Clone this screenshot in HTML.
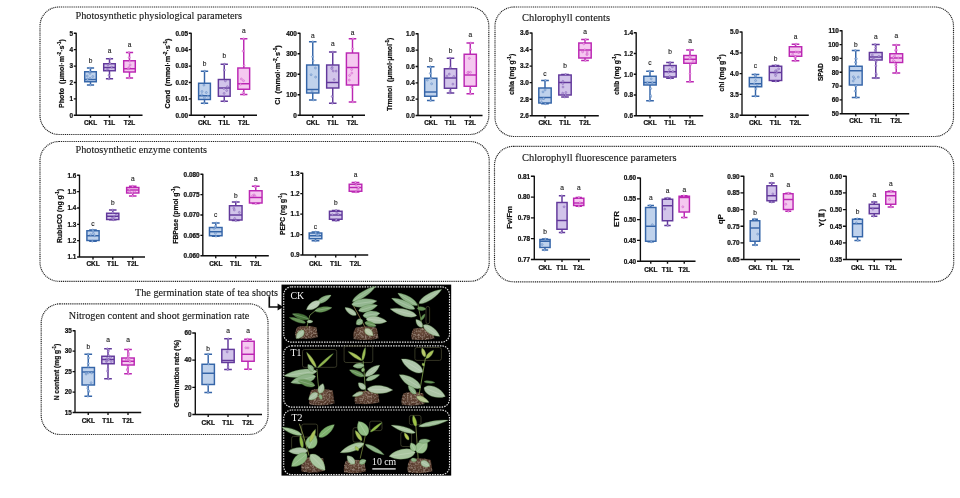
<!DOCTYPE html>
<html><head><meta charset="utf-8"><title>figure</title>
<style>html,body{margin:0;padding:0;background:#fff;}body{width:960px;height:498px;overflow:hidden;font-family:"Liberation Sans",sans-serif;}svg{display:block}</style>
</head><body>
<svg width="960" height="498" viewBox="0 0 960 498">
<rect width="960" height="498" fill="#ffffff"/>
<defs><filter id="soft" x="0" y="0" width="100%" height="100%" filterUnits="userSpaceOnUse"><feGaussianBlur stdDeviation="0.38"/></filter></defs>
<g filter="url(#soft)">
<rect x="40" y="7" width="448.8" height="127.5" rx="19" ry="19" fill="none" stroke="#222" stroke-width="1.15" stroke-dasharray="1.1 0.8"/>
<rect x="495" y="7" width="458.5" height="129.5" rx="19" ry="19" fill="none" stroke="#222" stroke-width="1.15" stroke-dasharray="1.1 0.8"/>
<rect x="40" y="141.5" width="449.2" height="139.8" rx="19" ry="19" fill="none" stroke="#222" stroke-width="1.15" stroke-dasharray="1.1 0.8"/>
<rect x="494.5" y="146.3" width="459.20000000000005" height="135.5" rx="19" ry="19" fill="none" stroke="#222" stroke-width="1.15" stroke-dasharray="1.1 0.8"/>
<rect x="41.2" y="303.8" width="226.8" height="130.7" rx="19" ry="19" fill="none" stroke="#222" stroke-width="1.15" stroke-dasharray="1.1 0.8"/>
<text x="75.5" y="19.2" font-family="Liberation Serif, serif" font-size="10.5" fill="#151515" stroke="#151515" stroke-width="0.12" textLength="166.5" lengthAdjust="spacingAndGlyphs">Photosynthetic physiological parameters</text>
<text x="522" y="21.3" font-family="Liberation Serif, serif" font-size="10.5" fill="#151515" stroke="#151515" stroke-width="0.12" textLength="88" lengthAdjust="spacingAndGlyphs">Chlorophyll contents</text>
<text x="75.5" y="152.6" font-family="Liberation Serif, serif" font-size="10.5" fill="#151515" stroke="#151515" stroke-width="0.12" textLength="131.5" lengthAdjust="spacingAndGlyphs">Photosynthetic enzyme contents</text>
<text x="522" y="160.6" font-family="Liberation Serif, serif" font-size="10.5" fill="#151515" stroke="#151515" stroke-width="0.12" textLength="154.5" lengthAdjust="spacingAndGlyphs">Chlorophyll fluorescence parameters</text>
<text x="135" y="295.6" font-family="Liberation Serif, serif" font-size="10.5" fill="#151515" stroke="#151515" stroke-width="0.12" textLength="143" lengthAdjust="spacingAndGlyphs">The germination state of tea shoots</text>
<text x="68.8" y="318.8" font-family="Liberation Serif, serif" font-size="10.5" fill="#151515" stroke="#151515" stroke-width="0.12" textLength="180.5" lengthAdjust="spacingAndGlyphs">Nitrogen content and shoot germination rate</text>
<g stroke="#3565A8" stroke-width="1.45" fill="none">
<path d="M90.5 68V71.75M90.5 81.75V85M86.904 68H94.096M86.904 85H94.096"/>
<rect x="84.7" y="71.75" width="11.6" height="10.0" fill="#BFD2EC"/>
<path d="M84.7 79.5H96.3"/>
</g>
<g fill="#A9C4EA" stroke="#3565A8" stroke-width="0.5" stroke-opacity="0.75" opacity="0.9"><circle cx="89.9" cy="68.0" r="1.0"/><circle cx="90.5" cy="85.0" r="1.0"/><circle cx="87.3" cy="76.0" r="1.0"/><circle cx="90.0" cy="73.4" r="1.0"/><circle cx="87.5" cy="79.3" r="1.0"/><circle cx="89.9" cy="71.8" r="1.0"/><circle cx="90.0" cy="78.2" r="1.0"/><circle cx="92.8" cy="76.5" r="1.0"/></g>
<g stroke="#62399B" stroke-width="1.45" fill="none">
<path d="M109.5 58.75V63.75M109.5 70.75V78.75M105.904 58.75H113.096M105.904 78.75H113.096"/>
<rect x="103.7" y="63.75" width="11.6" height="7.0" fill="#D2C4EA"/>
<path d="M103.7 67.5H115.3"/>
</g>
<g fill="#BBA6E0" stroke="#62399B" stroke-width="0.5" stroke-opacity="0.75" opacity="0.9"><circle cx="110.2" cy="58.8" r="1.0"/><circle cx="108.9" cy="78.8" r="1.0"/><circle cx="110.0" cy="63.4" r="1.0"/><circle cx="108.0" cy="65.0" r="1.0"/><circle cx="107.0" cy="69.6" r="1.0"/><circle cx="109.0" cy="75.3" r="1.0"/><circle cx="108.2" cy="69.0" r="1.0"/><circle cx="111.7" cy="67.1" r="1.0"/></g>
<g stroke="#BB27B3" stroke-width="1.45" fill="none">
<path d="M129.5 52.5V60.75M129.5 72V78M125.904 52.5H133.096M125.904 78H133.096"/>
<rect x="123.7" y="60.75" width="11.6" height="11.25" fill="#F5C8F0"/>
<path d="M123.7 68.75H135.3"/>
</g>
<g fill="#F2B0EC" stroke="#BB27B3" stroke-width="0.5" stroke-opacity="0.75" opacity="0.9"><circle cx="128.9" cy="52.5" r="1.0"/><circle cx="129.1" cy="78.0" r="1.0"/><circle cx="129.8" cy="61.2" r="1.0"/><circle cx="129.0" cy="68.0" r="1.0"/><circle cx="128.2" cy="68.8" r="1.0"/><circle cx="130.1" cy="64.9" r="1.0"/><circle cx="129.2" cy="67.6" r="1.0"/><circle cx="129.2" cy="57.6" r="1.0"/></g>
<g stroke="#0c0c0c" stroke-width="1.35" fill="none">
<path d="M76.2 32.75V115.25H142.5M73.8 33.25H76.2M73.8 49.65H76.2M73.8 66.05H76.2M73.8 82.45H76.2M73.8 98.85H76.2M73.8 115.25H76.2M90.5 115.25V117.65M109.5 115.25V117.65M129.5 115.25V117.65"/></g>
<g font-family="Liberation Sans, sans-serif" font-weight="bold" font-size="6.4" fill="#0c0c0c" stroke="#0c0c0c" stroke-width="0.2" text-anchor="end">
<text x="73.00" y="35.55">5</text>
<text x="73.00" y="51.95">4</text>
<text x="73.00" y="68.35">3</text>
<text x="73.00" y="84.75">2</text>
<text x="73.00" y="101.15">1</text>
<text x="73.00" y="117.55">0</text>
</g>
<g font-family="Liberation Sans, sans-serif" font-weight="bold" font-size="6.45" fill="#0c0c0c" stroke="#0c0c0c" stroke-width="0.22" text-anchor="middle">
<text x="90.5" y="124.6">CKL</text>
<text x="109.5" y="124.6">T1L</text>
<text x="129.5" y="124.6">T2L</text>
</g>
<g font-family="Liberation Sans, sans-serif" font-size="6.6" fill="#111" stroke="#111" stroke-width="0.1" text-anchor="middle">
<text x="90.5" y="63.4">b</text>
<text x="109.5" y="52.9">a</text>
<text x="129.5" y="46.65">a</text>
</g>
<text transform="translate(64.3,73.5) rotate(-90)" text-anchor="middle" font-family="Liberation Sans, sans-serif" font-weight="bold" font-size="6.9" fill="#0c0c0c" stroke="#0c0c0c" stroke-width="0.2" xml:space="preserve" textLength="69" lengthAdjust="spacingAndGlyphs"><tspan>Photo  (μmol·m</tspan><tspan font-size="4.55" dy="-2.90">-2</tspan><tspan dy="2.90" font-size="6.9">&#8203;</tspan><tspan>·s</tspan><tspan font-size="4.55" dy="-2.90">-1</tspan><tspan dy="2.90" font-size="6.9">&#8203;</tspan><tspan>)</tspan></text>
<g stroke="#3565A8" stroke-width="1.45" fill="none">
<path d="M204.5 71.25V83.25M204.5 99.5V103.25M200.842 71.25H208.158M200.842 103.25H208.158"/>
<rect x="198.6" y="83.25" width="11.8" height="16.25" fill="#BFD2EC"/>
<path d="M198.6 95.75H210.4"/>
</g>
<g fill="#A9C4EA" stroke="#3565A8" stroke-width="0.5" stroke-opacity="0.75" opacity="0.9"><circle cx="204.8" cy="71.2" r="1.0"/><circle cx="204.2" cy="103.2" r="1.0"/><circle cx="207.9" cy="96.2" r="1.0"/><circle cx="201.8" cy="94.7" r="1.0"/><circle cx="203.9" cy="85.1" r="1.0"/><circle cx="206.3" cy="92.5" r="1.0"/><circle cx="202.0" cy="91.5" r="1.0"/><circle cx="204.4" cy="97.8" r="1.0"/></g>
<g stroke="#62399B" stroke-width="1.45" fill="none">
<path d="M224.25 64.25V79.5M224.25 96.25V101.25M220.592 64.25H227.908M220.592 101.25H227.908"/>
<rect x="218.35" y="79.5" width="11.8" height="16.75" fill="#D2C4EA"/>
<path d="M218.35 88H230.15"/>
</g>
<g fill="#BBA6E0" stroke="#62399B" stroke-width="0.5" stroke-opacity="0.75" opacity="0.9"><circle cx="224.5" cy="64.2" r="1.0"/><circle cx="224.4" cy="101.2" r="1.0"/><circle cx="224.4" cy="70.1" r="1.0"/><circle cx="223.9" cy="88.5" r="1.0"/><circle cx="226.7" cy="90.5" r="1.0"/><circle cx="227.4" cy="86.7" r="1.0"/><circle cx="224.1" cy="93.4" r="1.0"/><circle cx="225.4" cy="80.9" r="1.0"/></g>
<g stroke="#BB27B3" stroke-width="1.45" fill="none">
<path d="M243.75 38.75V68M243.75 89.25V94.5M240.092 38.75H247.408M240.092 94.5H247.408"/>
<rect x="237.85" y="68" width="11.8" height="21.25" fill="#F5C8F0"/>
<path d="M237.85 83.75H249.65"/>
</g>
<g fill="#F2B0EC" stroke="#BB27B3" stroke-width="0.5" stroke-opacity="0.75" opacity="0.9"><circle cx="243.6" cy="38.8" r="1.0"/><circle cx="244.0" cy="94.5" r="1.0"/><circle cx="243.1" cy="51.1" r="1.0"/><circle cx="243.5" cy="80.7" r="1.0"/><circle cx="241.4" cy="79.0" r="1.0"/><circle cx="243.2" cy="92.5" r="1.0"/><circle cx="240.6" cy="84.2" r="1.0"/><circle cx="244.1" cy="65.5" r="1.0"/></g>
<g stroke="#0c0c0c" stroke-width="1.35" fill="none">
<path d="M191.2 32.75V115.25H257M188.79999999999998 33.25H191.2M188.79999999999998 49.65H191.2M188.79999999999998 66.05H191.2M188.79999999999998 82.45H191.2M188.79999999999998 98.85H191.2M188.79999999999998 115.25H191.2M204.5 115.25V117.65M224.25 115.25V117.65M243.75 115.25V117.65"/></g>
<g font-family="Liberation Sans, sans-serif" font-weight="bold" font-size="6.4" fill="#0c0c0c" stroke="#0c0c0c" stroke-width="0.2" text-anchor="end">
<text x="188.00" y="35.55">0.05</text>
<text x="188.00" y="51.95">0.04</text>
<text x="188.00" y="68.35">0.03</text>
<text x="188.00" y="84.75">0.02</text>
<text x="188.00" y="101.15">0.01</text>
<text x="188.00" y="117.55">0.00</text>
</g>
<g font-family="Liberation Sans, sans-serif" font-weight="bold" font-size="6.45" fill="#0c0c0c" stroke="#0c0c0c" stroke-width="0.22" text-anchor="middle">
<text x="204.5" y="124.6">CKL</text>
<text x="224.25" y="124.6">T1L</text>
<text x="243.75" y="124.6">T2L</text>
</g>
<g font-family="Liberation Sans, sans-serif" font-size="6.6" fill="#111" stroke="#111" stroke-width="0.1" text-anchor="middle">
<text x="204.5" y="65.9">b</text>
<text x="224.25" y="57.9">b</text>
<text x="243.75" y="32.9">a</text>
</g>
<text transform="translate(170,73.5) rotate(-90)" text-anchor="middle" font-family="Liberation Sans, sans-serif" font-weight="bold" font-size="6.9" fill="#0c0c0c" stroke="#0c0c0c" stroke-width="0.2" xml:space="preserve" textLength="70" lengthAdjust="spacingAndGlyphs"><tspan>Cond  (mmol·m</tspan><tspan font-size="4.55" dy="-2.90">-2</tspan><tspan dy="2.90" font-size="6.9">&#8203;</tspan><tspan>·s</tspan><tspan font-size="4.55" dy="-2.90">-1</tspan><tspan dy="2.90" font-size="6.9">&#8203;</tspan><tspan>)</tspan></text>
<g stroke="#3565A8" stroke-width="1.45" fill="none">
<path d="M312.75 41.75V65M312.75 93V100M308.968 41.75H316.532M308.968 100H316.532"/>
<rect x="306.65" y="65" width="12.2" height="28" fill="#BFD2EC"/>
<path d="M306.65 89.5H318.85"/>
</g>
<g fill="#A9C4EA" stroke="#3565A8" stroke-width="0.5" stroke-opacity="0.75" opacity="0.9"><circle cx="312.8" cy="41.8" r="1.0"/><circle cx="313.3" cy="100.0" r="1.0"/><circle cx="313.2" cy="60.7" r="1.0"/><circle cx="315.4" cy="68.0" r="1.0"/><circle cx="311.1" cy="74.7" r="1.0"/><circle cx="312.1" cy="91.1" r="1.0"/><circle cx="312.6" cy="56.7" r="1.0"/><circle cx="315.6" cy="77.1" r="1.0"/></g>
<g stroke="#62399B" stroke-width="1.45" fill="none">
<path d="M332.75 52V65M332.75 88V103.25M328.968 52H336.532M328.968 103.25H336.532"/>
<rect x="326.65" y="65" width="12.2" height="23" fill="#D2C4EA"/>
<path d="M326.65 82.5H338.85"/>
</g>
<g fill="#BBA6E0" stroke="#62399B" stroke-width="0.5" stroke-opacity="0.75" opacity="0.9"><circle cx="332.9" cy="52.0" r="1.0"/><circle cx="332.4" cy="103.2" r="1.0"/><circle cx="332.1" cy="96.5" r="1.0"/><circle cx="332.2" cy="67.4" r="1.0"/><circle cx="331.8" cy="68.6" r="1.0"/><circle cx="333.2" cy="71.0" r="1.0"/><circle cx="336.1" cy="71.1" r="1.0"/><circle cx="334.1" cy="79.5" r="1.0"/></g>
<g stroke="#BB27B3" stroke-width="1.45" fill="none">
<path d="M352.5 38.75V53M352.5 85V102M348.718 38.75H356.282M348.718 102H356.282"/>
<rect x="346.4" y="53" width="12.2" height="32" fill="#F5C8F0"/>
<path d="M346.4 67.5H358.6"/>
</g>
<g fill="#F2B0EC" stroke="#BB27B3" stroke-width="0.5" stroke-opacity="0.75" opacity="0.9"><circle cx="353.0" cy="38.8" r="1.0"/><circle cx="352.9" cy="102.0" r="1.0"/><circle cx="351.7" cy="69.5" r="1.0"/><circle cx="351.8" cy="73.1" r="1.0"/><circle cx="349.6" cy="75.4" r="1.0"/><circle cx="352.7" cy="48.7" r="1.0"/><circle cx="351.9" cy="87.2" r="1.0"/><circle cx="349.3" cy="80.1" r="1.0"/></g>
<g stroke="#0c0c0c" stroke-width="1.35" fill="none">
<path d="M300 32.75V115.25H365M297.6 33.25H300M297.6 53.75H300M297.6 74.25H300M297.6 94.75H300M297.6 115.25H300M312.75 115.25V117.65M332.75 115.25V117.65M352.5 115.25V117.65"/></g>
<g font-family="Liberation Sans, sans-serif" font-weight="bold" font-size="6.4" fill="#0c0c0c" stroke="#0c0c0c" stroke-width="0.2" text-anchor="end">
<text x="296.80" y="35.55">400</text>
<text x="296.80" y="56.05">300</text>
<text x="296.80" y="76.55">200</text>
<text x="296.80" y="97.05">100</text>
<text x="296.80" y="117.55">0</text>
</g>
<g font-family="Liberation Sans, sans-serif" font-weight="bold" font-size="6.45" fill="#0c0c0c" stroke="#0c0c0c" stroke-width="0.22" text-anchor="middle">
<text x="312.75" y="124.6">CKL</text>
<text x="332.75" y="124.6">T1L</text>
<text x="352.5" y="124.6">T2L</text>
</g>
<g font-family="Liberation Sans, sans-serif" font-size="6.6" fill="#111" stroke="#111" stroke-width="0.1" text-anchor="middle">
<text x="312.75" y="37.9">a</text>
<text x="332.75" y="46.15">a</text>
<text x="352.5" y="34.9">a</text>
</g>
<text transform="translate(280,75) rotate(-90)" text-anchor="middle" font-family="Liberation Sans, sans-serif" font-weight="bold" font-size="6.9" fill="#0c0c0c" stroke="#0c0c0c" stroke-width="0.2" xml:space="preserve" textLength="59.5" lengthAdjust="spacingAndGlyphs"><tspan>Ci  (mmol·m</tspan><tspan font-size="4.55" dy="-2.90">-2</tspan><tspan dy="2.90" font-size="6.9">&#8203;</tspan><tspan>·s</tspan><tspan font-size="4.55" dy="-2.90">-1</tspan><tspan dy="2.90" font-size="6.9">&#8203;</tspan><tspan>)</tspan></text>
<g stroke="#3565A8" stroke-width="1.45" fill="none">
<path d="M430.75 66.75V78.25M430.75 96.25V100.5M426.968 66.75H434.532M426.968 100.5H434.532"/>
<rect x="424.65" y="78.25" width="12.2" height="18.0" fill="#BFD2EC"/>
<path d="M424.65 92H436.85"/>
</g>
<g fill="#A9C4EA" stroke="#3565A8" stroke-width="0.5" stroke-opacity="0.75" opacity="0.9"><circle cx="430.2" cy="66.8" r="1.0"/><circle cx="430.6" cy="100.5" r="1.0"/><circle cx="427.3" cy="80.1" r="1.0"/><circle cx="431.3" cy="78.5" r="1.0"/><circle cx="431.6" cy="83.8" r="1.0"/><circle cx="430.3" cy="73.4" r="1.0"/><circle cx="430.4" cy="67.2" r="1.0"/><circle cx="430.5" cy="78.1" r="1.0"/></g>
<g stroke="#62399B" stroke-width="1.45" fill="none">
<path d="M450.5 58.25V68.75M450.5 88.25V93M446.718 58.25H454.282M446.718 93H454.282"/>
<rect x="444.4" y="68.75" width="12.2" height="19.5" fill="#D2C4EA"/>
<path d="M444.4 78H456.6"/>
</g>
<g fill="#BBA6E0" stroke="#62399B" stroke-width="0.5" stroke-opacity="0.75" opacity="0.9"><circle cx="449.9" cy="58.2" r="1.0"/><circle cx="449.9" cy="93.0" r="1.0"/><circle cx="449.3" cy="74.1" r="1.0"/><circle cx="450.2" cy="67.4" r="1.0"/><circle cx="452.9" cy="84.1" r="1.0"/><circle cx="450.0" cy="91.1" r="1.0"/><circle cx="447.0" cy="76.1" r="1.0"/><circle cx="453.8" cy="76.5" r="1.0"/></g>
<g stroke="#BB27B3" stroke-width="1.45" fill="none">
<path d="M470.25 43V54.25M470.25 86.25V93.75M466.468 43H474.032M466.468 93.75H474.032"/>
<rect x="464.15" y="54.25" width="12.2" height="32.0" fill="#F5C8F0"/>
<path d="M464.15 75H476.35"/>
</g>
<g fill="#F2B0EC" stroke="#BB27B3" stroke-width="0.5" stroke-opacity="0.75" opacity="0.9"><circle cx="470.8" cy="43.0" r="1.0"/><circle cx="470.5" cy="93.8" r="1.0"/><circle cx="468.5" cy="72.3" r="1.0"/><circle cx="469.3" cy="58.4" r="1.0"/><circle cx="467.8" cy="72.7" r="1.0"/><circle cx="470.6" cy="49.6" r="1.0"/><circle cx="470.5" cy="72.3" r="1.0"/><circle cx="470.6" cy="89.2" r="1.0"/></g>
<g stroke="#0c0c0c" stroke-width="1.35" fill="none">
<path d="M418 33.25V115.5H482.5M415.6 33.75H418M415.6 50.1H418M415.6 66.45H418M415.6 82.8H418M415.6 99.15H418M415.6 115.5H418M430.75 115.5V117.9M450.5 115.5V117.9M470.25 115.5V117.9"/></g>
<g font-family="Liberation Sans, sans-serif" font-weight="bold" font-size="6.4" fill="#0c0c0c" stroke="#0c0c0c" stroke-width="0.2" text-anchor="end">
<text x="414.80" y="36.05">1.0</text>
<text x="414.80" y="52.40">0.8</text>
<text x="414.80" y="68.75">0.6</text>
<text x="414.80" y="85.10">0.4</text>
<text x="414.80" y="101.45">0.2</text>
<text x="414.80" y="117.80">0.0</text>
</g>
<g font-family="Liberation Sans, sans-serif" font-weight="bold" font-size="6.45" fill="#0c0c0c" stroke="#0c0c0c" stroke-width="0.22" text-anchor="middle">
<text x="430.75" y="124.6">CKL</text>
<text x="450.5" y="124.6">T1L</text>
<text x="470.25" y="124.6">T2L</text>
</g>
<g font-family="Liberation Sans, sans-serif" font-size="6.6" fill="#111" stroke="#111" stroke-width="0.1" text-anchor="middle">
<text x="430.75" y="61.65">b</text>
<text x="450.5" y="52.9">b</text>
<text x="470.25" y="37.4">a</text>
</g>
<text transform="translate(392,74.3) rotate(-90)" text-anchor="middle" font-family="Liberation Sans, sans-serif" font-weight="bold" font-size="6.9" fill="#0c0c0c" stroke="#0c0c0c" stroke-width="0.2" xml:space="preserve" textLength="73.5" lengthAdjust="spacingAndGlyphs"><tspan>Trmmol  (μmol·μmol</tspan><tspan font-size="4.55" dy="-2.90">-1</tspan><tspan dy="2.90" font-size="6.9">&#8203;</tspan><tspan>)</tspan></text>
<g stroke="#3565A8" stroke-width="1.45" fill="none">
<path d="M545 80.5V88M545 103V103.75M541.156 80.5H548.844M541.156 103.75H548.844"/>
<rect x="538.8" y="88" width="12.4" height="15" fill="#BFD2EC"/>
<path d="M538.8 97.5H551.2"/>
</g>
<g fill="#A9C4EA" stroke="#3565A8" stroke-width="0.5" stroke-opacity="0.75" opacity="0.9"><circle cx="545.4" cy="80.5" r="1.0"/><circle cx="545.3" cy="103.8" r="1.0"/><circle cx="543.0" cy="91.9" r="1.0"/><circle cx="545.1" cy="89.9" r="1.0"/><circle cx="543.9" cy="98.5" r="1.0"/><circle cx="541.5" cy="102.3" r="1.0"/><circle cx="541.5" cy="99.1" r="1.0"/><circle cx="543.4" cy="98.4" r="1.0"/></g>
<g stroke="#62399B" stroke-width="1.45" fill="none">
<path d="M565 74.5V75M565 95V97M561.156 74.5H568.844M561.156 97H568.844"/>
<rect x="558.8" y="75" width="12.4" height="20" fill="#D2C4EA"/>
<path d="M558.8 82.5H571.2"/>
</g>
<g fill="#BBA6E0" stroke="#62399B" stroke-width="0.5" stroke-opacity="0.75" opacity="0.9"><circle cx="565.6" cy="74.5" r="1.0"/><circle cx="564.8" cy="97.0" r="1.0"/><circle cx="562.9" cy="81.3" r="1.0"/><circle cx="563.0" cy="87.0" r="1.0"/><circle cx="562.7" cy="93.2" r="1.0"/><circle cx="562.8" cy="83.6" r="1.0"/><circle cx="565.9" cy="92.5" r="1.0"/><circle cx="565.6" cy="95.0" r="1.0"/></g>
<g stroke="#BB27B3" stroke-width="1.45" fill="none">
<path d="M585 39.5V43M585 58V60.5M581.156 39.5H588.844M581.156 60.5H588.844"/>
<rect x="578.8" y="43" width="12.4" height="15" fill="#F5C8F0"/>
<path d="M578.8 50H591.2"/>
</g>
<g fill="#F2B0EC" stroke="#BB27B3" stroke-width="0.5" stroke-opacity="0.75" opacity="0.9"><circle cx="585.6" cy="39.5" r="1.0"/><circle cx="585.4" cy="60.5" r="1.0"/><circle cx="586.9" cy="54.6" r="1.0"/><circle cx="584.8" cy="49.8" r="1.0"/><circle cx="582.6" cy="51.8" r="1.0"/><circle cx="587.2" cy="53.9" r="1.0"/><circle cx="583.8" cy="43.8" r="1.0"/><circle cx="587.2" cy="51.8" r="1.0"/></g>
<g stroke="#0c0c0c" stroke-width="1.35" fill="none">
<path d="M532 32.5V115.75H598.8M529.6 33.0H532M529.6 49.55H532M529.6 66.1H532M529.6 82.65H532M529.6 99.2H532M529.6 115.75H532M545 115.75V118.15M565 115.75V118.15M585 115.75V118.15"/></g>
<g font-family="Liberation Sans, sans-serif" font-weight="bold" font-size="6.4" fill="#0c0c0c" stroke="#0c0c0c" stroke-width="0.2" text-anchor="end">
<text x="528.80" y="35.30">3.6</text>
<text x="528.80" y="51.85">3.4</text>
<text x="528.80" y="68.40">3.2</text>
<text x="528.80" y="84.95">3.0</text>
<text x="528.80" y="101.50">2.8</text>
<text x="528.80" y="118.05">2.6</text>
</g>
<g font-family="Liberation Sans, sans-serif" font-weight="bold" font-size="6.45" fill="#0c0c0c" stroke="#0c0c0c" stroke-width="0.22" text-anchor="middle">
<text x="545" y="124.6">CKL</text>
<text x="565" y="124.6">T1L</text>
<text x="585" y="124.6">T2L</text>
</g>
<g font-family="Liberation Sans, sans-serif" font-size="6.6" fill="#111" stroke="#111" stroke-width="0.1" text-anchor="middle">
<text x="545" y="76.15">c</text>
<text x="565" y="68.4">b</text>
<text x="585" y="34.15">a</text>
</g>
<text transform="translate(514,74.4) rotate(-90)" text-anchor="middle" font-family="Liberation Sans, sans-serif" font-weight="bold" font-size="6.9" fill="#0c0c0c" stroke="#0c0c0c" stroke-width="0.2" xml:space="preserve" textLength="41.2" lengthAdjust="spacingAndGlyphs"><tspan>chla (mg g</tspan><tspan font-size="4.55" dy="-2.90">-1</tspan><tspan dy="2.90" font-size="6.9">&#8203;</tspan><tspan>)</tspan></text>
<g stroke="#3565A8" stroke-width="1.45" fill="none">
<path d="M650 71.25V76.25M650 85V100.75M646.156 71.25H653.844M646.156 100.75H653.844"/>
<rect x="643.8" y="76.25" width="12.4" height="8.75" fill="#BFD2EC"/>
<path d="M643.8 82.5H656.2"/>
</g>
<g fill="#A9C4EA" stroke="#3565A8" stroke-width="0.5" stroke-opacity="0.75" opacity="0.9"><circle cx="649.5" cy="71.2" r="1.0"/><circle cx="649.5" cy="100.8" r="1.0"/><circle cx="650.6" cy="96.8" r="1.0"/><circle cx="652.3" cy="82.7" r="1.0"/><circle cx="647.4" cy="82.8" r="1.0"/><circle cx="650.5" cy="95.4" r="1.0"/><circle cx="650.7" cy="88.6" r="1.0"/><circle cx="651.2" cy="78.8" r="1.0"/></g>
<g stroke="#62399B" stroke-width="1.45" fill="none">
<path d="M670 62.5V65.5M670 77V78.25M666.156 62.5H673.844M666.156 78.25H673.844"/>
<rect x="663.8" y="65.5" width="12.4" height="11.5" fill="#D2C4EA"/>
<path d="M663.8 71.75H676.2"/>
</g>
<g fill="#BBA6E0" stroke="#62399B" stroke-width="0.5" stroke-opacity="0.75" opacity="0.9"><circle cx="670.0" cy="62.5" r="1.0"/><circle cx="670.6" cy="78.2" r="1.0"/><circle cx="669.5" cy="69.6" r="1.0"/><circle cx="672.8" cy="71.4" r="1.0"/><circle cx="672.4" cy="66.9" r="1.0"/><circle cx="669.6" cy="63.9" r="1.0"/><circle cx="669.7" cy="76.5" r="1.0"/><circle cx="668.5" cy="72.3" r="1.0"/></g>
<g stroke="#BB27B3" stroke-width="1.45" fill="none">
<path d="M690 50V55.5M690 63.25V81.75M686.156 50H693.844M686.156 81.75H693.844"/>
<rect x="683.8" y="55.5" width="12.4" height="7.75" fill="#F5C8F0"/>
<path d="M683.8 59.25H696.2"/>
</g>
<g fill="#F2B0EC" stroke="#BB27B3" stroke-width="0.5" stroke-opacity="0.75" opacity="0.9"><circle cx="689.8" cy="50.0" r="1.0"/><circle cx="689.9" cy="81.8" r="1.0"/><circle cx="690.6" cy="58.4" r="1.0"/><circle cx="690.6" cy="64.6" r="1.0"/><circle cx="689.4" cy="58.7" r="1.0"/><circle cx="693.1" cy="61.4" r="1.0"/><circle cx="690.0" cy="56.2" r="1.0"/><circle cx="690.0" cy="73.7" r="1.0"/></g>
<g stroke="#0c0c0c" stroke-width="1.35" fill="none">
<path d="M636.2 32.25V115.75H703.2M633.8000000000001 32.75H636.2M633.8000000000001 53.5H636.2M633.8000000000001 74.25H636.2M633.8000000000001 95.0H636.2M633.8000000000001 115.75H636.2M650 115.75V118.15M670 115.75V118.15M690 115.75V118.15"/></g>
<g font-family="Liberation Sans, sans-serif" font-weight="bold" font-size="6.4" fill="#0c0c0c" stroke="#0c0c0c" stroke-width="0.2" text-anchor="end">
<text x="633.00" y="35.05">1.4</text>
<text x="633.00" y="55.80">1.2</text>
<text x="633.00" y="76.55">1.0</text>
<text x="633.00" y="97.30">0.8</text>
<text x="633.00" y="118.05">0.6</text>
</g>
<g font-family="Liberation Sans, sans-serif" font-weight="bold" font-size="6.45" fill="#0c0c0c" stroke="#0c0c0c" stroke-width="0.22" text-anchor="middle">
<text x="650" y="124.6">CKL</text>
<text x="670" y="124.6">T1L</text>
<text x="690" y="124.6">T2L</text>
</g>
<g font-family="Liberation Sans, sans-serif" font-size="6.6" fill="#111" stroke="#111" stroke-width="0.1" text-anchor="middle">
<text x="650" y="65.4">c</text>
<text x="670" y="54.15">b</text>
<text x="690" y="42.9">a</text>
</g>
<text transform="translate(619,74.4) rotate(-90)" text-anchor="middle" font-family="Liberation Sans, sans-serif" font-weight="bold" font-size="6.9" fill="#0c0c0c" stroke="#0c0c0c" stroke-width="0.2" xml:space="preserve" textLength="41.2" lengthAdjust="spacingAndGlyphs"><tspan>chlb (mg g</tspan><tspan font-size="4.55" dy="-2.90">-1</tspan><tspan dy="2.90" font-size="6.9">&#8203;</tspan><tspan>)</tspan></text>
<g stroke="#3565A8" stroke-width="1.45" fill="none">
<path d="M755.5 74.5V77.5M755.5 86.75V96.25M751.656 74.5H759.344M751.656 96.25H759.344"/>
<rect x="749.3" y="77.5" width="12.4" height="9.25" fill="#BFD2EC"/>
<path d="M749.3 83.75H761.7"/>
</g>
<g fill="#A9C4EA" stroke="#3565A8" stroke-width="0.5" stroke-opacity="0.75" opacity="0.9"><circle cx="755.0" cy="74.5" r="1.0"/><circle cx="755.5" cy="96.2" r="1.0"/><circle cx="757.2" cy="84.9" r="1.0"/><circle cx="755.6" cy="76.4" r="1.0"/><circle cx="754.2" cy="83.9" r="1.0"/><circle cx="755.6" cy="80.6" r="1.0"/><circle cx="755.6" cy="75.4" r="1.0"/><circle cx="755.9" cy="88.9" r="1.0"/></g>
<g stroke="#62399B" stroke-width="1.45" fill="none">
<path d="M775.5 65.5V66.25M775.5 80.5V81.25M771.656 65.5H779.344M771.656 81.25H779.344"/>
<rect x="769.3" y="66.25" width="12.4" height="14.25" fill="#D2C4EA"/>
<path d="M769.3 72.5H781.7"/>
</g>
<g fill="#BBA6E0" stroke="#62399B" stroke-width="0.5" stroke-opacity="0.75" opacity="0.9"><circle cx="775.6" cy="65.5" r="1.0"/><circle cx="775.9" cy="81.2" r="1.0"/><circle cx="778.6" cy="68.9" r="1.0"/><circle cx="775.1" cy="73.5" r="1.0"/><circle cx="776.3" cy="70.7" r="1.0"/><circle cx="775.5" cy="71.0" r="1.0"/><circle cx="775.6" cy="75.6" r="1.0"/><circle cx="776.9" cy="73.0" r="1.0"/></g>
<g stroke="#BB27B3" stroke-width="1.45" fill="none">
<path d="M795.5 44.25V46.75M795.5 56.25V60.75M791.656 44.25H799.344M791.656 60.75H799.344"/>
<rect x="789.3" y="46.75" width="12.4" height="9.5" fill="#F5C8F0"/>
<path d="M789.3 52H801.7"/>
</g>
<g fill="#F2B0EC" stroke="#BB27B3" stroke-width="0.5" stroke-opacity="0.75" opacity="0.9"><circle cx="796.1" cy="44.2" r="1.0"/><circle cx="795.2" cy="60.8" r="1.0"/><circle cx="795.9" cy="51.9" r="1.0"/><circle cx="798.8" cy="52.5" r="1.0"/><circle cx="798.0" cy="52.1" r="1.0"/><circle cx="795.0" cy="57.8" r="1.0"/><circle cx="792.7" cy="54.2" r="1.0"/><circle cx="795.4" cy="56.5" r="1.0"/></g>
<g stroke="#0c0c0c" stroke-width="1.35" fill="none">
<path d="M742 31.5V115.25H808.8M739.6 32.0H742M739.6 52.8125H742M739.6 73.625H742M739.6 94.4375H742M739.6 115.25H742M755.5 115.25V117.65M775.5 115.25V117.65M795.5 115.25V117.65"/></g>
<g font-family="Liberation Sans, sans-serif" font-weight="bold" font-size="6.4" fill="#0c0c0c" stroke="#0c0c0c" stroke-width="0.2" text-anchor="end">
<text x="738.80" y="34.30">5.0</text>
<text x="738.80" y="55.12">4.5</text>
<text x="738.80" y="75.93">4.0</text>
<text x="738.80" y="96.74">3.5</text>
<text x="738.80" y="117.55">3.0</text>
</g>
<g font-family="Liberation Sans, sans-serif" font-weight="bold" font-size="6.45" fill="#0c0c0c" stroke="#0c0c0c" stroke-width="0.22" text-anchor="middle">
<text x="755.5" y="124.6">CKL</text>
<text x="775.5" y="124.6">T1L</text>
<text x="795.5" y="124.6">T2L</text>
</g>
<g font-family="Liberation Sans, sans-serif" font-size="6.6" fill="#111" stroke="#111" stroke-width="0.1" text-anchor="middle">
<text x="755.5" y="68.4">c</text>
<text x="775.5" y="61.15">b</text>
<text x="795.5" y="39.15">a</text>
</g>
<text transform="translate(723.5,73) rotate(-90)" text-anchor="middle" font-family="Liberation Sans, sans-serif" font-weight="bold" font-size="6.9" fill="#0c0c0c" stroke="#0c0c0c" stroke-width="0.2" xml:space="preserve" textLength="37.5" lengthAdjust="spacingAndGlyphs"><tspan>chl (mg g</tspan><tspan font-size="4.55" dy="-2.90">-1</tspan><tspan dy="2.90" font-size="6.9">&#8203;</tspan><tspan>)</tspan></text>
<g stroke="#3565A8" stroke-width="1.45" fill="none">
<path d="M855.75 50.5V66.25M855.75 85V97.5M851.782 50.5H859.718M851.782 97.5H859.718"/>
<rect x="849.35" y="66.25" width="12.8" height="18.75" fill="#BFD2EC"/>
<path d="M849.35 70.75H862.15"/>
</g>
<g fill="#A9C4EA" stroke="#3565A8" stroke-width="0.5" stroke-opacity="0.75" opacity="0.9"><circle cx="855.4" cy="50.5" r="1.0"/><circle cx="856.4" cy="97.5" r="1.0"/><circle cx="855.6" cy="58.8" r="1.0"/><circle cx="855.7" cy="65.6" r="1.0"/><circle cx="856.4" cy="58.8" r="1.0"/><circle cx="858.3" cy="77.1" r="1.0"/><circle cx="853.2" cy="81.0" r="1.0"/><circle cx="855.7" cy="86.1" r="1.0"/><circle cx="855.8" cy="62.6" r="1.0"/><circle cx="854.5" cy="78.6" r="1.0"/><circle cx="853.4" cy="76.8" r="1.0"/><circle cx="855.5" cy="62.2" r="1.0"/><circle cx="856.1" cy="85.4" r="1.0"/><circle cx="855.1" cy="91.1" r="1.0"/></g>
<g stroke="#62399B" stroke-width="1.45" fill="none">
<path d="M875.75 44.5V52.5M875.75 60V78M871.782 44.5H879.718M871.782 78H879.718"/>
<rect x="869.35" y="52.5" width="12.8" height="7.5" fill="#D2C4EA"/>
<path d="M869.35 57H882.15"/>
</g>
<g fill="#BBA6E0" stroke="#62399B" stroke-width="0.5" stroke-opacity="0.75" opacity="0.9"><circle cx="875.1" cy="44.5" r="1.0"/><circle cx="876.1" cy="78.0" r="1.0"/><circle cx="875.4" cy="60.3" r="1.0"/><circle cx="872.9" cy="58.2" r="1.0"/><circle cx="875.6" cy="47.3" r="1.0"/><circle cx="878.9" cy="56.3" r="1.0"/><circle cx="876.2" cy="61.7" r="1.0"/><circle cx="873.9" cy="59.5" r="1.0"/><circle cx="875.3" cy="49.7" r="1.0"/><circle cx="876.3" cy="74.8" r="1.0"/><circle cx="875.8" cy="65.8" r="1.0"/><circle cx="876.0" cy="73.5" r="1.0"/><circle cx="875.2" cy="51.1" r="1.0"/><circle cx="872.4" cy="55.0" r="1.0"/></g>
<g stroke="#BB27B3" stroke-width="1.45" fill="none">
<path d="M896.25 45V53.75M896.25 62.5V73M892.282 45H900.218M892.282 73H900.218"/>
<rect x="889.85" y="53.75" width="12.8" height="8.75" fill="#F5C8F0"/>
<path d="M889.85 58H902.65"/>
</g>
<g fill="#F2B0EC" stroke="#BB27B3" stroke-width="0.5" stroke-opacity="0.75" opacity="0.9"><circle cx="896.3" cy="45.0" r="1.0"/><circle cx="896.8" cy="73.0" r="1.0"/><circle cx="894.5" cy="61.6" r="1.0"/><circle cx="893.4" cy="57.4" r="1.0"/><circle cx="896.3" cy="50.1" r="1.0"/><circle cx="895.9" cy="67.9" r="1.0"/><circle cx="893.3" cy="60.6" r="1.0"/><circle cx="895.8" cy="63.9" r="1.0"/><circle cx="895.6" cy="50.5" r="1.0"/><circle cx="895.8" cy="65.2" r="1.0"/><circle cx="896.0" cy="49.9" r="1.0"/><circle cx="896.0" cy="65.4" r="1.0"/><circle cx="898.2" cy="57.9" r="1.0"/><circle cx="894.6" cy="56.1" r="1.0"/></g>
<g stroke="#0c0c0c" stroke-width="1.35" fill="none">
<path d="M842 30.25V113.75H909.2M839.6 30.75H842M839.6 44.583333333333336H842M839.6 58.41666666666667H842M839.6 72.25H842M839.6 86.08333333333334H842M839.6 99.91666666666667H842M839.6 113.75H842M855.75 113.75V116.15M875.75 113.75V116.15M896.25 113.75V116.15"/></g>
<g font-family="Liberation Sans, sans-serif" font-weight="bold" font-size="6.4" fill="#0c0c0c" stroke="#0c0c0c" stroke-width="0.2" text-anchor="end">
<text x="838.80" y="33.05">110</text>
<text x="838.80" y="46.89">100</text>
<text x="838.80" y="60.72">90</text>
<text x="838.80" y="74.55">80</text>
<text x="838.80" y="88.39">70</text>
<text x="838.80" y="102.22">60</text>
<text x="838.80" y="116.05">50</text>
</g>
<g font-family="Liberation Sans, sans-serif" font-weight="bold" font-size="6.45" fill="#0c0c0c" stroke="#0c0c0c" stroke-width="0.22" text-anchor="middle">
<text x="855.75" y="123.2">CKL</text>
<text x="875.75" y="123.2">T1L</text>
<text x="896.25" y="123.2">T2L</text>
</g>
<g font-family="Liberation Sans, sans-serif" font-size="6.6" fill="#111" stroke="#111" stroke-width="0.1" text-anchor="middle">
<text x="855.75" y="46.65">b</text>
<text x="875.75" y="38.65">a</text>
<text x="896.25" y="37.9">a</text>
</g>
<text transform="translate(823,72.2) rotate(-90)" text-anchor="middle" font-family="Liberation Sans, sans-serif" font-weight="bold" font-size="6.9" fill="#0c0c0c" stroke="#0c0c0c" stroke-width="0.2" xml:space="preserve" textLength="17.8" lengthAdjust="spacingAndGlyphs"><tspan>SPAD</tspan></text>
<g stroke="#3565A8" stroke-width="1.45" fill="none">
<path d="M93 230V230.75M93 240.5V241.25M89.218 230H96.782M89.218 241.25H96.782"/>
<rect x="86.9" y="230.75" width="12.2" height="9.75" fill="#BFD2EC"/>
<path d="M86.9 235.75H99.1"/>
</g>
<g fill="#A9C4EA" stroke="#3565A8" stroke-width="0.5" stroke-opacity="0.75" opacity="0.9"><circle cx="92.7" cy="230.0" r="1.0"/><circle cx="92.3" cy="241.2" r="1.0"/><circle cx="94.7" cy="235.7" r="1.0"/><circle cx="93.4" cy="233.4" r="1.0"/><circle cx="90.7" cy="234.7" r="1.0"/><circle cx="93.0" cy="231.1" r="1.0"/></g>
<g stroke="#62399B" stroke-width="1.45" fill="none">
<path d="M112.75 210V213.25M112.75 219.5V219.75M108.968 210H116.532M108.968 219.75H116.532"/>
<rect x="106.65" y="213.25" width="12.2" height="6.25" fill="#D2C4EA"/>
<path d="M106.65 216.25H118.85"/>
</g>
<g fill="#BBA6E0" stroke="#62399B" stroke-width="0.5" stroke-opacity="0.75" opacity="0.9"><circle cx="112.7" cy="210.0" r="1.0"/><circle cx="113.2" cy="219.8" r="1.0"/><circle cx="112.0" cy="218.3" r="1.0"/><circle cx="112.8" cy="212.5" r="1.0"/><circle cx="114.1" cy="217.3" r="1.0"/><circle cx="116.3" cy="215.1" r="1.0"/></g>
<g stroke="#BB27B3" stroke-width="1.45" fill="none">
<path d="M132.75 186.25V187.5M132.75 193V196M128.968 186.25H136.532M128.968 196H136.532"/>
<rect x="126.65" y="187.5" width="12.2" height="5.5" fill="#F5C8F0"/>
<path d="M126.65 190H138.85"/>
</g>
<g fill="#F2B0EC" stroke="#BB27B3" stroke-width="0.5" stroke-opacity="0.75" opacity="0.9"><circle cx="132.6" cy="186.2" r="1.0"/><circle cx="132.5" cy="196.0" r="1.0"/><circle cx="129.5" cy="189.8" r="1.0"/><circle cx="132.2" cy="192.9" r="1.0"/><circle cx="129.6" cy="191.9" r="1.0"/><circle cx="134.5" cy="191.4" r="1.0"/></g>
<g stroke="#0c0c0c" stroke-width="1.35" fill="none">
<path d="M79.5 174.75V257.0H145M77.1 175.25H79.5M77.1 191.6H79.5M77.1 207.95H79.5M77.1 224.3H79.5M77.1 240.65H79.5M77.1 257.0H79.5M93 257.0V259.4M112.75 257.0V259.4M132.75 257.0V259.4"/></g>
<g font-family="Liberation Sans, sans-serif" font-weight="bold" font-size="6.4" fill="#0c0c0c" stroke="#0c0c0c" stroke-width="0.2" text-anchor="end">
<text x="76.30" y="177.55">1.6</text>
<text x="76.30" y="193.90">1.5</text>
<text x="76.30" y="210.25">1.4</text>
<text x="76.30" y="226.60">1.3</text>
<text x="76.30" y="242.95">1.2</text>
<text x="76.30" y="259.30">1.1</text>
</g>
<g font-family="Liberation Sans, sans-serif" font-weight="bold" font-size="6.45" fill="#0c0c0c" stroke="#0c0c0c" stroke-width="0.22" text-anchor="middle">
<text x="93" y="266.3">CKL</text>
<text x="112.75" y="266.3">T1L</text>
<text x="132.75" y="266.3">T2L</text>
</g>
<g font-family="Liberation Sans, sans-serif" font-size="6.6" fill="#111" stroke="#111" stroke-width="0.1" text-anchor="middle">
<text x="93" y="226.15">c</text>
<text x="112.75" y="204.65">b</text>
<text x="132.75" y="180.9">a</text>
</g>
<text transform="translate(61.5,216) rotate(-90)" text-anchor="middle" font-family="Liberation Sans, sans-serif" font-weight="bold" font-size="6.9" fill="#0c0c0c" stroke="#0c0c0c" stroke-width="0.2" xml:space="preserve" textLength="54.2" lengthAdjust="spacingAndGlyphs"><tspan>RubisCO (ng g</tspan><tspan font-size="4.55" dy="-2.90">-1</tspan><tspan dy="2.90" font-size="6.9">&#8203;</tspan><tspan>)</tspan></text>
<g stroke="#3565A8" stroke-width="1.45" fill="none">
<path d="M215.75 223V227.5M215.75 235.75V236.25M211.844 223H219.656M211.844 236.25H219.656"/>
<rect x="209.45" y="227.5" width="12.6" height="8.25" fill="#BFD2EC"/>
<path d="M209.45 231.75H222.05"/>
</g>
<g fill="#A9C4EA" stroke="#3565A8" stroke-width="0.5" stroke-opacity="0.75" opacity="0.9"><circle cx="216.3" cy="223.0" r="1.0"/><circle cx="216.0" cy="236.2" r="1.0"/><circle cx="214.1" cy="228.4" r="1.0"/><circle cx="215.4" cy="227.4" r="1.0"/><circle cx="215.5" cy="226.1" r="1.0"/><circle cx="215.4" cy="233.2" r="1.0"/></g>
<g stroke="#62399B" stroke-width="1.45" fill="none">
<path d="M235.75 202V205.75M235.75 220V220.5M231.844 202H239.656M231.844 220.5H239.656"/>
<rect x="229.45" y="205.75" width="12.6" height="14.25" fill="#D2C4EA"/>
<path d="M229.45 215H242.05"/>
</g>
<g fill="#BBA6E0" stroke="#62399B" stroke-width="0.5" stroke-opacity="0.75" opacity="0.9"><circle cx="236.4" cy="202.0" r="1.0"/><circle cx="235.8" cy="220.5" r="1.0"/><circle cx="233.8" cy="208.2" r="1.0"/><circle cx="239.3" cy="212.4" r="1.0"/><circle cx="234.3" cy="210.0" r="1.0"/><circle cx="234.7" cy="218.5" r="1.0"/></g>
<g stroke="#BB27B3" stroke-width="1.45" fill="none">
<path d="M255.75 186.25V190.75M255.75 203V203.5M251.844 186.25H259.656M251.844 203.5H259.656"/>
<rect x="249.45" y="190.75" width="12.6" height="12.25" fill="#F5C8F0"/>
<path d="M249.45 197.5H262.05"/>
</g>
<g fill="#F2B0EC" stroke="#BB27B3" stroke-width="0.5" stroke-opacity="0.75" opacity="0.9"><circle cx="255.3" cy="186.2" r="1.0"/><circle cx="255.8" cy="203.5" r="1.0"/><circle cx="255.1" cy="186.7" r="1.0"/><circle cx="254.0" cy="194.9" r="1.0"/><circle cx="252.6" cy="195.8" r="1.0"/><circle cx="255.0" cy="196.1" r="1.0"/></g>
<g stroke="#0c0c0c" stroke-width="1.35" fill="none">
<path d="M202.8 173.75V255.75H268.8M200.4 174.25H202.8M200.4 194.625H202.8M200.4 215.0H202.8M200.4 235.375H202.8M200.4 255.75H202.8M215.75 255.75V258.15M235.75 255.75V258.15M255.75 255.75V258.15"/></g>
<g font-family="Liberation Sans, sans-serif" font-weight="bold" font-size="6.4" fill="#0c0c0c" stroke="#0c0c0c" stroke-width="0.2" text-anchor="end">
<text x="199.60" y="176.55">0.080</text>
<text x="199.60" y="196.93">0.075</text>
<text x="199.60" y="217.30">0.070</text>
<text x="199.60" y="237.68">0.065</text>
<text x="199.60" y="258.05">0.060</text>
</g>
<g font-family="Liberation Sans, sans-serif" font-weight="bold" font-size="6.45" fill="#0c0c0c" stroke="#0c0c0c" stroke-width="0.22" text-anchor="middle">
<text x="215.75" y="266.3">CKL</text>
<text x="235.75" y="266.3">T1L</text>
<text x="255.75" y="266.3">T2L</text>
</g>
<g font-family="Liberation Sans, sans-serif" font-size="6.6" fill="#111" stroke="#111" stroke-width="0.1" text-anchor="middle">
<text x="215.75" y="217.15">c</text>
<text x="235.75" y="198.4">b</text>
<text x="255.75" y="181.15">a</text>
</g>
<text transform="translate(177.5,215) rotate(-90)" text-anchor="middle" font-family="Liberation Sans, sans-serif" font-weight="bold" font-size="6.9" fill="#0c0c0c" stroke="#0c0c0c" stroke-width="0.2" xml:space="preserve" textLength="57.5" lengthAdjust="spacingAndGlyphs"><tspan>FBPase (pmol g</tspan><tspan font-size="4.55" dy="-2.90">-1</tspan><tspan dy="2.90" font-size="6.9">&#8203;</tspan><tspan>)</tspan></text>
<g stroke="#3565A8" stroke-width="1.45" fill="none">
<path d="M315.5 232V233M315.5 238.75V240.75M311.594 232H319.406M311.594 240.75H319.406"/>
<rect x="309.2" y="233" width="12.6" height="5.75" fill="#BFD2EC"/>
<path d="M309.2 235.75H321.8"/>
</g>
<g fill="#A9C4EA" stroke="#3565A8" stroke-width="0.5" stroke-opacity="0.75" opacity="0.9"><circle cx="315.6" cy="232.0" r="1.0"/><circle cx="315.5" cy="240.8" r="1.0"/><circle cx="315.9" cy="233.2" r="1.0"/><circle cx="315.7" cy="232.9" r="1.0"/><circle cx="317.1" cy="235.2" r="1.0"/><circle cx="318.4" cy="234.8" r="1.0"/></g>
<g stroke="#62399B" stroke-width="1.45" fill="none">
<path d="M335.75 210.5V211.25M335.75 219.25V220.5M331.844 210.5H339.656M331.844 220.5H339.656"/>
<rect x="329.45" y="211.25" width="12.6" height="8.0" fill="#D2C4EA"/>
<path d="M329.45 215H342.05"/>
</g>
<g fill="#BBA6E0" stroke="#62399B" stroke-width="0.5" stroke-opacity="0.75" opacity="0.9"><circle cx="336.1" cy="210.5" r="1.0"/><circle cx="336.0" cy="220.5" r="1.0"/><circle cx="332.3" cy="214.7" r="1.0"/><circle cx="338.3" cy="214.3" r="1.0"/><circle cx="336.3" cy="219.6" r="1.0"/><circle cx="336.7" cy="213.1" r="1.0"/></g>
<g stroke="#BB27B3" stroke-width="1.45" fill="none">
<path d="M355.5 182.5V184.25M355.5 191.25V192M351.594 182.5H359.406M351.594 192H359.406"/>
<rect x="349.2" y="184.25" width="12.6" height="7.0" fill="#F5C8F0"/>
<path d="M349.2 187.5H361.8"/>
</g>
<g fill="#F2B0EC" stroke="#BB27B3" stroke-width="0.5" stroke-opacity="0.75" opacity="0.9"><circle cx="355.5" cy="182.5" r="1.0"/><circle cx="356.0" cy="192.0" r="1.0"/><circle cx="357.8" cy="188.6" r="1.0"/><circle cx="358.0" cy="189.2" r="1.0"/><circle cx="356.1" cy="185.1" r="1.0"/><circle cx="358.5" cy="187.5" r="1.0"/></g>
<g stroke="#0c0c0c" stroke-width="1.35" fill="none">
<path d="M302.7 172.75V255.0H368.2M300.3 173.25H302.7M300.3 193.6875H302.7M300.3 214.125H302.7M300.3 234.5625H302.7M300.3 255.0H302.7M315.5 255.0V257.4M335.75 255.0V257.4M355.5 255.0V257.4"/></g>
<g font-family="Liberation Sans, sans-serif" font-weight="bold" font-size="6.4" fill="#0c0c0c" stroke="#0c0c0c" stroke-width="0.2" text-anchor="end">
<text x="299.50" y="175.55">1.3</text>
<text x="299.50" y="195.99">1.2</text>
<text x="299.50" y="216.43">1.1</text>
<text x="299.50" y="236.87">1.0</text>
<text x="299.50" y="257.30">0.9</text>
</g>
<g font-family="Liberation Sans, sans-serif" font-weight="bold" font-size="6.45" fill="#0c0c0c" stroke="#0c0c0c" stroke-width="0.22" text-anchor="middle">
<text x="315.5" y="266.3">CKL</text>
<text x="335.75" y="266.3">T1L</text>
<text x="355.5" y="266.3">T2L</text>
</g>
<g font-family="Liberation Sans, sans-serif" font-size="6.6" fill="#111" stroke="#111" stroke-width="0.1" text-anchor="middle">
<text x="315.5" y="229.15">c</text>
<text x="335.75" y="204.9">b</text>
<text x="355.5" y="177.4">a</text>
</g>
<text transform="translate(285,214) rotate(-90)" text-anchor="middle" font-family="Liberation Sans, sans-serif" font-weight="bold" font-size="6.9" fill="#0c0c0c" stroke="#0c0c0c" stroke-width="0.2" xml:space="preserve" textLength="42" lengthAdjust="spacingAndGlyphs"><tspan>PEPC (ng g</tspan><tspan font-size="4.55" dy="-2.90">-1</tspan><tspan dy="2.90" font-size="6.9">&#8203;</tspan><tspan>)</tspan></text>
<g stroke="#3565A8" stroke-width="1.45" fill="none">
<path d="M545 239V239.5M545 247.5V250M541.838 239H548.162M541.838 250H548.162"/>
<rect x="539.9" y="239.5" width="10.2" height="8.0" fill="#BFD2EC"/>
<path d="M539.9 241.25H550.1"/>
</g>
<g fill="#A9C4EA" stroke="#3565A8" stroke-width="0.5" stroke-opacity="0.75" opacity="0.9"><circle cx="545.3" cy="239.0" r="1.0"/><circle cx="544.6" cy="250.0" r="1.0"/><circle cx="542.1" cy="244.5" r="1.0"/></g>
<g stroke="#62399B" stroke-width="1.45" fill="none">
<path d="M562 195.75V202.5M562 229.25V232.5M558.838 195.75H565.162M558.838 232.5H565.162"/>
<rect x="556.9" y="202.5" width="10.2" height="26.75" fill="#D2C4EA"/>
<path d="M556.9 220.5H567.1"/>
</g>
<g fill="#BBA6E0" stroke="#62399B" stroke-width="0.5" stroke-opacity="0.75" opacity="0.9"><circle cx="561.8" cy="195.8" r="1.0"/><circle cx="561.4" cy="232.5" r="1.0"/><circle cx="564.1" cy="206.8" r="1.0"/></g>
<g stroke="#BB27B3" stroke-width="1.45" fill="none">
<path d="M578.75 197.5V198.25M578.75 205.5V206.25M575.588 197.5H581.912M575.588 206.25H581.912"/>
<rect x="573.65" y="198.25" width="10.2" height="7.25" fill="#F5C8F0"/>
<path d="M573.65 203H583.85"/>
</g>
<g fill="#F2B0EC" stroke="#BB27B3" stroke-width="0.5" stroke-opacity="0.75" opacity="0.9"><circle cx="578.9" cy="197.5" r="1.0"/><circle cx="578.9" cy="206.2" r="1.0"/><circle cx="579.9" cy="202.7" r="1.0"/></g>
<g stroke="#0c0c0c" stroke-width="1.35" fill="none">
<path d="M534.3 175.75V259.5H590M530.9 176.25H534.3M530.9 197.0625H534.3M530.9 217.875H534.3M530.9 238.6875H534.3M530.9 259.5H534.3M545 259.5V261.9M562 259.5V261.9M578.75 259.5V261.9"/></g>
<g font-family="Liberation Sans, sans-serif" font-weight="bold" font-size="6.4" fill="#0c0c0c" stroke="#0c0c0c" stroke-width="0.2" text-anchor="end">
<text x="530.10" y="178.55">0.81</text>
<text x="530.10" y="199.37">0.80</text>
<text x="530.10" y="220.18">0.79</text>
<text x="530.10" y="240.99">0.78</text>
<text x="530.10" y="261.80">0.77</text>
</g>
<g font-family="Liberation Sans, sans-serif" font-weight="bold" font-size="6.45" fill="#0c0c0c" stroke="#0c0c0c" stroke-width="0.22" text-anchor="middle">
<text x="545" y="270.2">CKL</text>
<text x="562" y="270.2">T1L</text>
<text x="578.75" y="270.2">T2L</text>
</g>
<g font-family="Liberation Sans, sans-serif" font-size="6.6" fill="#111" stroke="#111" stroke-width="0.1" text-anchor="middle">
<text x="545" y="234.15">b</text>
<text x="562" y="189.9">a</text>
<text x="578.75" y="189.9">a</text>
</g>
<text transform="translate(512.3,217.5) rotate(-90)" text-anchor="middle" font-family="Liberation Sans, sans-serif" font-weight="bold" font-size="8" fill="#0c0c0c" stroke="#0c0c0c" stroke-width="0.2" xml:space="preserve" textLength="23.2" lengthAdjust="spacingAndGlyphs"><tspan>Fv/Fm</tspan></text>
<g stroke="#3565A8" stroke-width="1.45" fill="none">
<path d="M650.75 205.5V207.5M650.75 241.25V241.75M647.526 205.5H653.974M647.526 241.75H653.974"/>
<rect x="645.55" y="207.5" width="10.4" height="33.75" fill="#BFD2EC"/>
<path d="M645.55 226.25H655.95"/>
</g>
<g fill="#A9C4EA" stroke="#3565A8" stroke-width="0.5" stroke-opacity="0.75" opacity="0.9"><circle cx="650.1" cy="205.5" r="1.0"/><circle cx="651.2" cy="241.8" r="1.0"/><circle cx="652.3" cy="224.7" r="1.0"/></g>
<g stroke="#62399B" stroke-width="1.45" fill="none">
<path d="M667.5 198.25V199.25M667.5 220.75V225.5M664.276 198.25H670.724M664.276 225.5H670.724"/>
<rect x="662.3" y="199.25" width="10.4" height="21.5" fill="#D2C4EA"/>
<path d="M662.3 205.75H672.7"/>
</g>
<g fill="#BBA6E0" stroke="#62399B" stroke-width="0.5" stroke-opacity="0.75" opacity="0.9"><circle cx="667.5" cy="198.2" r="1.0"/><circle cx="667.7" cy="225.5" r="1.0"/><circle cx="664.8" cy="209.1" r="1.0"/></g>
<g stroke="#BB27B3" stroke-width="1.45" fill="none">
<path d="M684.25 195.75V196.25M684.25 212V217.5M681.026 195.75H687.474M681.026 217.5H687.474"/>
<rect x="679.05" y="196.25" width="10.4" height="15.75" fill="#F5C8F0"/>
<path d="M679.05 197.5H689.45"/>
</g>
<g fill="#F2B0EC" stroke="#BB27B3" stroke-width="0.5" stroke-opacity="0.75" opacity="0.9"><circle cx="683.9" cy="195.8" r="1.0"/><circle cx="683.7" cy="217.5" r="1.0"/><circle cx="682.8" cy="206.8" r="1.0"/></g>
<g stroke="#0c0c0c" stroke-width="1.35" fill="none">
<path d="M640.4 177.5V261.25H695.5M637.0 178.0H640.4M637.0 198.8125H640.4M637.0 219.625H640.4M637.0 240.4375H640.4M637.0 261.25H640.4M650.75 261.25V263.65M667.5 261.25V263.65M684.25 261.25V263.65"/></g>
<g font-family="Liberation Sans, sans-serif" font-weight="bold" font-size="6.4" fill="#0c0c0c" stroke="#0c0c0c" stroke-width="0.2" text-anchor="end">
<text x="636.20" y="180.30">0.60</text>
<text x="636.20" y="201.12">0.55</text>
<text x="636.20" y="221.93">0.50</text>
<text x="636.20" y="242.74">0.45</text>
<text x="636.20" y="263.55">0.40</text>
</g>
<g font-family="Liberation Sans, sans-serif" font-weight="bold" font-size="6.45" fill="#0c0c0c" stroke="#0c0c0c" stroke-width="0.22" text-anchor="middle">
<text x="650.75" y="271.8">CKL</text>
<text x="667.5" y="271.8">T1L</text>
<text x="684.25" y="271.8">T2L</text>
</g>
<g font-family="Liberation Sans, sans-serif" font-size="6.6" fill="#111" stroke="#111" stroke-width="0.1" text-anchor="middle">
<text x="650.75" y="200.4">a</text>
<text x="667.5" y="192.9">a</text>
<text x="684.25" y="191.65">a</text>
</g>
<text transform="translate(618.8,219) rotate(-90)" text-anchor="middle" font-family="Liberation Sans, sans-serif" font-weight="bold" font-size="8" fill="#0c0c0c" stroke="#0c0c0c" stroke-width="0.2" xml:space="preserve" textLength="16" lengthAdjust="spacingAndGlyphs"><tspan>ETR</tspan></text>
<g stroke="#3565A8" stroke-width="1.45" fill="none">
<path d="M755 219.25V220.75M755 241.25V245M752.024 219.25H757.976M752.024 245H757.976"/>
<rect x="750.2" y="220.75" width="9.6" height="20.5" fill="#BFD2EC"/>
<path d="M750.2 228H759.8"/>
</g>
<g fill="#A9C4EA" stroke="#3565A8" stroke-width="0.5" stroke-opacity="0.75" opacity="0.9"><circle cx="754.6" cy="219.2" r="1.0"/><circle cx="755.3" cy="245.0" r="1.0"/><circle cx="757.7" cy="234.1" r="1.0"/></g>
<g stroke="#62399B" stroke-width="1.45" fill="none">
<path d="M771.75 183V185.75M771.75 200.75V202M768.774 183H774.726M768.774 202H774.726"/>
<rect x="766.95" y="185.75" width="9.6" height="15.0" fill="#D2C4EA"/>
<path d="M766.95 195.75H776.55"/>
</g>
<g fill="#BBA6E0" stroke="#62399B" stroke-width="0.5" stroke-opacity="0.75" opacity="0.9"><circle cx="771.6" cy="183.0" r="1.0"/><circle cx="771.7" cy="202.0" r="1.0"/><circle cx="772.8" cy="193.9" r="1.0"/></g>
<g stroke="#BB27B3" stroke-width="1.45" fill="none">
<path d="M788.25 193.25V193.75M788.25 209.5V211.25M785.274 193.25H791.226M785.274 211.25H791.226"/>
<rect x="783.45" y="193.75" width="9.6" height="15.75" fill="#F5C8F0"/>
<path d="M783.45 199.5H793.05"/>
</g>
<g fill="#F2B0EC" stroke="#BB27B3" stroke-width="0.5" stroke-opacity="0.75" opacity="0.9"><circle cx="788.4" cy="193.2" r="1.0"/><circle cx="788.4" cy="211.2" r="1.0"/><circle cx="785.8" cy="204.2" r="1.0"/></g>
<g stroke="#0c0c0c" stroke-width="1.35" fill="none">
<path d="M743.8 175.75V259.5H800M740.5 176.25H743.8M740.5 192.9H743.8M740.5 209.55H743.8M740.5 226.2H743.8M740.5 242.85H743.8M740.5 259.5H743.8M755 259.5V261.9M771.75 259.5V261.9M788.25 259.5V261.9"/></g>
<g font-family="Liberation Sans, sans-serif" font-weight="bold" font-size="6.4" fill="#0c0c0c" stroke="#0c0c0c" stroke-width="0.2" text-anchor="end">
<text x="739.70" y="178.55">0.90</text>
<text x="739.70" y="195.20">0.85</text>
<text x="739.70" y="211.85">0.80</text>
<text x="739.70" y="228.50">0.75</text>
<text x="739.70" y="245.15">0.70</text>
<text x="739.70" y="261.80">0.65</text>
</g>
<g font-family="Liberation Sans, sans-serif" font-weight="bold" font-size="6.45" fill="#0c0c0c" stroke="#0c0c0c" stroke-width="0.22" text-anchor="middle">
<text x="755" y="270.2">CKL</text>
<text x="771.75" y="270.2">T1L</text>
<text x="788.25" y="270.2">T2L</text>
</g>
<g font-family="Liberation Sans, sans-serif" font-size="6.6" fill="#111" stroke="#111" stroke-width="0.1" text-anchor="middle">
<text x="755" y="215.4">b</text>
<text x="771.75" y="176.65">a</text>
<text x="788.25" y="187.4">a</text>
</g>
<text transform="translate(722.6,219.2) rotate(-90)" text-anchor="middle" font-family="Liberation Sans, sans-serif" font-weight="bold" font-size="8" fill="#0c0c0c" stroke="#0c0c0c" stroke-width="0.2" xml:space="preserve" textLength="10.3" lengthAdjust="spacingAndGlyphs"><tspan>qP</tspan></text>
<g stroke="#3565A8" stroke-width="1.45" fill="none">
<path d="M857.5 218.75V219.25M857.5 236.75V240.5M854.4 218.75H860.6M854.4 240.5H860.6"/>
<rect x="852.5" y="219.25" width="10.0" height="17.5" fill="#BFD2EC"/>
<path d="M852.5 223.75H862.5"/>
</g>
<g fill="#A9C4EA" stroke="#3565A8" stroke-width="0.5" stroke-opacity="0.75" opacity="0.9"><circle cx="857.2" cy="218.8" r="1.0"/><circle cx="857.8" cy="240.5" r="1.0"/><circle cx="856.3" cy="222.8" r="1.0"/></g>
<g stroke="#62399B" stroke-width="1.45" fill="none">
<path d="M874.25 202V204.25M874.25 213.75V216.25M871.15 202H877.35M871.15 216.25H877.35"/>
<rect x="869.25" y="204.25" width="10.0" height="9.5" fill="#D2C4EA"/>
<path d="M869.25 208.25H879.25"/>
</g>
<g fill="#BBA6E0" stroke="#62399B" stroke-width="0.5" stroke-opacity="0.75" opacity="0.9"><circle cx="873.6" cy="202.0" r="1.0"/><circle cx="873.6" cy="216.2" r="1.0"/><circle cx="872.9" cy="209.2" r="1.0"/></g>
<g stroke="#BB27B3" stroke-width="1.45" fill="none">
<path d="M890.75 191.25V191.75M890.75 204.25V207M887.65 191.25H893.85M887.65 207H893.85"/>
<rect x="885.75" y="191.75" width="10.0" height="12.5" fill="#F5C8F0"/>
<path d="M885.75 195.75H895.75"/>
</g>
<g fill="#F2B0EC" stroke="#BB27B3" stroke-width="0.5" stroke-opacity="0.75" opacity="0.9"><circle cx="891.0" cy="191.2" r="1.0"/><circle cx="891.0" cy="207.0" r="1.0"/><circle cx="889.5" cy="199.4" r="1.0"/></g>
<g stroke="#0c0c0c" stroke-width="1.35" fill="none">
<path d="M846.2 175.75V259.5H902M842.9000000000001 176.25H846.2M842.9000000000001 192.9H846.2M842.9000000000001 209.55H846.2M842.9000000000001 226.2H846.2M842.9000000000001 242.85H846.2M842.9000000000001 259.5H846.2M857.5 259.5V261.9M874.25 259.5V261.9M890.75 259.5V261.9"/></g>
<g font-family="Liberation Sans, sans-serif" font-weight="bold" font-size="6.4" fill="#0c0c0c" stroke="#0c0c0c" stroke-width="0.2" text-anchor="end">
<text x="842.10" y="178.55">0.60</text>
<text x="842.10" y="195.20">0.55</text>
<text x="842.10" y="211.85">0.50</text>
<text x="842.10" y="228.50">0.45</text>
<text x="842.10" y="245.15">0.40</text>
<text x="842.10" y="261.80">0.35</text>
</g>
<g font-family="Liberation Sans, sans-serif" font-weight="bold" font-size="6.45" fill="#0c0c0c" stroke="#0c0c0c" stroke-width="0.22" text-anchor="middle">
<text x="857.5" y="270.2">CKL</text>
<text x="874.25" y="270.2">T1L</text>
<text x="890.75" y="270.2">T2L</text>
</g>
<g font-family="Liberation Sans, sans-serif" font-size="6.6" fill="#111" stroke="#111" stroke-width="0.1" text-anchor="middle">
<text x="857.5" y="213.65">b</text>
<text x="874.25" y="197.4">a</text>
<text x="890.75" y="185.9">a</text>
</g>
<g transform="translate(824.3,217.75) rotate(-90)" font-family="Liberation Sans, sans-serif" font-weight="bold" font-size="8" fill="#0c0c0c" stroke="#0c0c0c" stroke-width="0.2"><text x="-9.25" y="0">Y(</text><text x="6.2" y="0">)</text><path d="M0.6 0H4.8V-0.75H0.6ZM0.6 -5.75H4.8V-5H0.6ZM1.35 -5.4H2.3V-0.4H1.35ZM3.1 -5.4H4.05V-0.4H3.1Z"/></g>
<g stroke="#3565A8" stroke-width="1.45" fill="none">
<path d="M88.25 354.25V367.5M88.25 385V396.25M84.406 354.25H92.094M84.406 396.25H92.094"/>
<rect x="82.05" y="367.5" width="12.4" height="17.5" fill="#BFD2EC"/>
<path d="M82.05 372H94.45"/>
</g>
<g fill="#A9C4EA" stroke="#3565A8" stroke-width="0.5" stroke-opacity="0.75" opacity="0.9"><circle cx="88.2" cy="354.2" r="1.0"/><circle cx="87.9" cy="396.2" r="1.0"/><circle cx="86.1" cy="374.1" r="1.0"/><circle cx="91.6" cy="372.9" r="1.0"/><circle cx="86.1" cy="372.9" r="1.0"/><circle cx="88.4" cy="363.6" r="1.0"/><circle cx="87.7" cy="385.8" r="1.0"/><circle cx="88.3" cy="366.4" r="1.0"/><circle cx="88.9" cy="391.5" r="1.0"/><circle cx="87.7" cy="388.2" r="1.0"/><circle cx="88.7" cy="357.9" r="1.0"/><circle cx="88.3" cy="372.8" r="1.0"/><circle cx="91.1" cy="382.7" r="1.0"/><circle cx="88.5" cy="390.6" r="1.0"/></g>
<g stroke="#62399B" stroke-width="1.45" fill="none">
<path d="M108 348.75V356.25M108 363.75V378.75M104.156 348.75H111.844M104.156 378.75H111.844"/>
<rect x="101.8" y="356.25" width="12.4" height="7.5" fill="#D2C4EA"/>
<path d="M101.8 359.5H114.2"/>
</g>
<g fill="#BBA6E0" stroke="#62399B" stroke-width="0.5" stroke-opacity="0.75" opacity="0.9"><circle cx="107.3" cy="348.8" r="1.0"/><circle cx="108.4" cy="378.8" r="1.0"/><circle cx="110.5" cy="357.4" r="1.0"/><circle cx="107.5" cy="371.1" r="1.0"/><circle cx="111.2" cy="361.5" r="1.0"/><circle cx="108.3" cy="351.6" r="1.0"/><circle cx="108.6" cy="349.8" r="1.0"/><circle cx="106.4" cy="361.6" r="1.0"/><circle cx="107.0" cy="360.9" r="1.0"/><circle cx="107.2" cy="358.6" r="1.0"/><circle cx="108.7" cy="355.5" r="1.0"/><circle cx="108.7" cy="359.3" r="1.0"/><circle cx="107.0" cy="358.8" r="1.0"/><circle cx="107.9" cy="369.1" r="1.0"/></g>
<g stroke="#BB27B3" stroke-width="1.45" fill="none">
<path d="M128 349.5V358M128 365V373.75M124.156 349.5H131.844M124.156 373.75H131.844"/>
<rect x="121.8" y="358" width="12.4" height="7" fill="#F5C8F0"/>
<path d="M121.8 361.25H134.2"/>
</g>
<g fill="#F2B0EC" stroke="#BB27B3" stroke-width="0.5" stroke-opacity="0.75" opacity="0.9"><circle cx="128.5" cy="349.5" r="1.0"/><circle cx="128.4" cy="373.8" r="1.0"/><circle cx="128.2" cy="358.4" r="1.0"/><circle cx="128.6" cy="353.2" r="1.0"/><circle cx="128.6" cy="354.9" r="1.0"/><circle cx="128.1" cy="366.7" r="1.0"/><circle cx="129.6" cy="358.5" r="1.0"/><circle cx="127.4" cy="369.3" r="1.0"/><circle cx="128.3" cy="357.9" r="1.0"/><circle cx="127.9" cy="358.2" r="1.0"/><circle cx="129.9" cy="361.6" r="1.0"/><circle cx="128.2" cy="356.9" r="1.0"/><circle cx="126.4" cy="359.8" r="1.0"/><circle cx="127.4" cy="370.1" r="1.0"/></g>
<g stroke="#0c0c0c" stroke-width="1.35" fill="none">
<path d="M75 330.25V412.5H141.2M72.6 330.75H75M72.6 351.1875H75M72.6 371.625H75M72.6 392.0625H75M72.6 412.5H75M88.25 412.5V414.9M108 412.5V414.9M128 412.5V414.9"/></g>
<g font-family="Liberation Sans, sans-serif" font-weight="bold" font-size="6.4" fill="#0c0c0c" stroke="#0c0c0c" stroke-width="0.2" text-anchor="end">
<text x="71.80" y="333.05">35</text>
<text x="71.80" y="353.49">30</text>
<text x="71.80" y="373.93">25</text>
<text x="71.80" y="394.37">20</text>
<text x="71.80" y="414.80">15</text>
</g>
<g font-family="Liberation Sans, sans-serif" font-weight="bold" font-size="6.45" fill="#0c0c0c" stroke="#0c0c0c" stroke-width="0.22" text-anchor="middle">
<text x="88.25" y="423.2">CKL</text>
<text x="108" y="423.2">T1L</text>
<text x="128" y="423.2">T2L</text>
</g>
<g font-family="Liberation Sans, sans-serif" font-size="6.6" fill="#111" stroke="#111" stroke-width="0.1" text-anchor="middle">
<text x="88.25" y="349.35">b</text>
<text x="108" y="342.35">a</text>
<text x="128" y="342.35">a</text>
</g>
<text transform="translate(59,372) rotate(-90)" text-anchor="middle" font-family="Liberation Sans, sans-serif" font-weight="bold" font-size="6.9" fill="#0c0c0c" stroke="#0c0c0c" stroke-width="0.2" xml:space="preserve" textLength="56.5" lengthAdjust="spacingAndGlyphs"><tspan>N content (mg g</tspan><tspan font-size="4.55" dy="-2.90">-1</tspan><tspan dy="2.90" font-size="6.9">&#8203;</tspan><tspan>)</tspan></text>
<g stroke="#3565A8" stroke-width="1.45" fill="none">
<path d="M208.2 354.25V364.25M208.2 384.5V392.5M204.356 354.25H212.04399999999998M204.356 392.5H212.04399999999998"/>
<rect x="202.0" y="364.25" width="12.4" height="20.25" fill="#BFD2EC"/>
<path d="M202.0 373.25H214.39999999999998"/>
</g>
<g fill="#A9C4EA" stroke="#3565A8" stroke-width="0.5" stroke-opacity="0.75" opacity="0.9"><circle cx="208.2" cy="354.2" r="1.0"/><circle cx="208.0" cy="392.5" r="1.0"/><circle cx="207.9" cy="385.2" r="1.0"/><circle cx="208.5" cy="363.9" r="1.0"/></g>
<g stroke="#62399B" stroke-width="1.45" fill="none">
<path d="M228 338.75V349.4M228 362.5V369.5M224.156 338.75H231.844M224.156 369.5H231.844"/>
<rect x="221.8" y="349.4" width="12.4" height="13.100000000000023" fill="#D2C4EA"/>
<path d="M221.8 360.5H234.2"/>
</g>
<g fill="#BBA6E0" stroke="#62399B" stroke-width="0.5" stroke-opacity="0.75" opacity="0.9"><circle cx="228.2" cy="338.8" r="1.0"/><circle cx="227.7" cy="369.5" r="1.0"/><circle cx="228.1" cy="366.9" r="1.0"/><circle cx="227.2" cy="351.9" r="1.0"/></g>
<g stroke="#BB27B3" stroke-width="1.45" fill="none">
<path d="M248 339.25V341.25M248 361.25V369.25M244.156 339.25H251.844M244.156 369.25H251.844"/>
<rect x="241.8" y="341.25" width="12.4" height="20.0" fill="#F5C8F0"/>
<path d="M241.8 354.25H254.2"/>
</g>
<g fill="#F2B0EC" stroke="#BB27B3" stroke-width="0.5" stroke-opacity="0.75" opacity="0.9"><circle cx="247.6" cy="339.2" r="1.0"/><circle cx="248.6" cy="369.2" r="1.0"/><circle cx="248.0" cy="347.9" r="1.0"/><circle cx="245.9" cy="347.8" r="1.0"/></g>
<g stroke="#0c0c0c" stroke-width="1.35" fill="none">
<path d="M195.3 332.5V414.5H262M192.3 333.0H195.3M192.3 360.1666666666667H195.3M192.3 387.3333333333333H195.3M192.3 414.5H195.3M208.2 414.5V416.9M228 414.5V416.9M248 414.5V416.9"/></g>
<g font-family="Liberation Sans, sans-serif" font-weight="bold" font-size="6.4" fill="#0c0c0c" stroke="#0c0c0c" stroke-width="0.2" text-anchor="end">
<text x="191.50" y="335.30">60</text>
<text x="191.50" y="362.47">40</text>
<text x="191.50" y="389.64">20</text>
<text x="191.50" y="416.80">0</text>
</g>
<g font-family="Liberation Sans, sans-serif" font-weight="bold" font-size="6.45" fill="#0c0c0c" stroke="#0c0c0c" stroke-width="0.22" text-anchor="middle">
<text x="208.2" y="425">CKL</text>
<text x="228" y="425">T1L</text>
<text x="248" y="425">T2L</text>
</g>
<g font-family="Liberation Sans, sans-serif" font-size="6.6" fill="#111" stroke="#111" stroke-width="0.1" text-anchor="middle">
<text x="208.2" y="351.09999999999997">b</text>
<text x="228" y="332.7">a</text>
<text x="248" y="332.7">a</text>
</g>
<text transform="translate(179,373.7) rotate(-90)" text-anchor="middle" font-family="Liberation Sans, sans-serif" font-weight="bold" font-size="6.9" fill="#0c0c0c" stroke="#0c0c0c" stroke-width="0.2" xml:space="preserve" textLength="67.5" lengthAdjust="spacingAndGlyphs"><tspan>Germination rate (%)</tspan></text>
<path d="M269.3 296.2V307H279" stroke="#0a0a0a" stroke-width="1.6" fill="none"/><path d="M283.2 307l-5.6-3.4v6.8z" fill="#0a0a0a"/>
</g>
<g opacity="0.999">
<defs><radialGradient id="soilg" cx="0.45" cy="0.4" r="0.75"><stop offset="0" stop-color="#6a4c3c"/><stop offset="0.7" stop-color="#503629"/><stop offset="1" stop-color="#38261e"/></radialGradient><filter id="sn" x="0" y="0" width="100%" height="100%"><feTurbulence type="fractalNoise" baseFrequency="0.55" numOctaves="2" seed="3" result="n"/><feColorMatrix in="n" type="matrix" values="0 0 0 0 0.52  0 0 0 0 0.40  0 0 0 0 0.32  1.3 0.6 0 0 -0.88" result="nn"/><feComposite in="nn" in2="SourceGraphic" operator="in" result="sp"/><feMerge><feMergeNode in="SourceGraphic"/><feMergeNode in="sp"/></feMerge></filter><filter id="pb" x="-5%" y="-5%" width="110%" height="110%"><feGaussianBlur stdDeviation="0.35"/></filter></defs>
<rect x="281.5" y="284.6" width="169.7" height="191" fill="#000"/>
<rect x="283.7" y="286.8" width="165.8" height="55.4" rx="8" fill="none" stroke="#e8e8e8" stroke-width="1.15" stroke-dasharray="1.5 1.1"/>
<rect x="283.7" y="345.8" width="165.8" height="61.3" rx="8" fill="none" stroke="#e8e8e8" stroke-width="1.15" stroke-dasharray="1.5 1.1"/>
<rect x="283.7" y="410" width="165.8" height="64.6" rx="8" fill="none" stroke="#e8e8e8" stroke-width="1.15" stroke-dasharray="1.5 1.1"/>
<g font-family="Liberation Serif, serif" font-size="9.8" fill="#f6f6f6">
<text x="290.4" y="299.3">CK</text><text x="290.6" y="355.9">T1</text><text x="291.6" y="421.4">T2</text></g>
<text x="372" y="464.6" font-family="Liberation Serif, serif" font-size="9.8" fill="#f4f4f4" textLength="24.2" lengthAdjust="spacingAndGlyphs">10 cm</text>
<rect x="372.3" y="468.2" width="23.4" height="1.4" fill="#ddd"/>
<g filter="url(#pb)">
<rect x="302.5" y="349.5" width="34.2" height="17.8" rx="2" fill="none" stroke="#4b4c33" stroke-width="0.7"/>
<rect x="344.1" y="346.1" width="28.7" height="16.4" rx="2" fill="none" stroke="#4b4c33" stroke-width="0.7"/>
<rect x="414.9" y="347.5" width="26.5" height="12.9" rx="2" fill="none" stroke="#4b4c33" stroke-width="0.7"/>
<rect x="301.7" y="424.1" width="15.9" height="13.0" rx="2" fill="none" stroke="#4b4c33" stroke-width="0.7"/>
<rect x="291.6" y="436.4" width="11.6" height="13.0" rx="2" fill="none" stroke="#4b4c33" stroke-width="0.7"/>
<rect x="369.7" y="421.2" width="12.3" height="9.4" rx="2" fill="none" stroke="#4b4c33" stroke-width="0.7"/>
<rect x="353" y="427.7" width="8.0" height="14.5" rx="2" fill="none" stroke="#4b4c33" stroke-width="0.7"/>
<rect x="409.4" y="415.4" width="11.6" height="9.4" rx="2" fill="none" stroke="#4b4c33" stroke-width="0.7"/>
<rect x="400.8" y="432" width="10.8" height="14.5" rx="2" fill="none" stroke="#4b4c33" stroke-width="0.7"/>
<rect x="426" y="306.4" width="3.6" height="17.4" rx="2" fill="none" stroke="#4b4c33" stroke-width="0.7"/>
<path d="M297.3 327.0Q306.5 324.7 316.4 327.3L318.0 337.2Q307.6 339.8 295.7 338.1Q294.3 332.2 297.3 327.0Z" fill="url(#soilg)" filter="url(#sn)"/>
<path d="M303.7 330.5C299.7 328.6 295.4 333.6 296.3 338.6C301.3 339.0 305.9 334.3 303.7 330.5Z" fill="#aac2a4" stroke="#5c8a4c" stroke-width="0.35"/>
<path d="M303.7 330.5L296.3 338.6" stroke="#e6efe2" stroke-width="0.35" opacity="0.7"/>
<path d="M306.8 327.0L309.9 315.1L317.4 308.9" stroke="#6f8f4a" stroke-width="0.85" fill="none" stroke-linecap="round"/>
<path d="M317.4 302.9C320.8 305.1 328.9 300.3 331.0 295.2C325.5 294.4 317.3 298.9 317.4 302.9Z" fill="#8eb388" stroke="#5c8a4c" stroke-width="0.35"/>
<path d="M317.4 302.9L331.0 295.2" stroke="#e6efe2" stroke-width="0.35" opacity="0.7"/>
<path d="M320.0 301.5C316.0 298.4 308.0 303.4 306.5 309.5C312.6 311.1 320.8 306.5 320.0 301.5Z" fill="#bacdb5" stroke="#5c8a4c" stroke-width="0.35"/>
<path d="M320.0 301.5L306.5 309.5" stroke="#e6efe2" stroke-width="0.35" opacity="0.7"/>
<path d="M314.9 310.8C317.5 313.8 327.6 311.7 331.7 307.7C326.4 305.4 316.3 307.1 314.9 310.8Z" fill="#679459" stroke="#5c8a4c" stroke-width="0.35"/>
<path d="M314.9 310.8L331.7 307.7" stroke="#e6efe2" stroke-width="0.35" opacity="0.7"/>
<path d="M308.5 318.9C307.6 315.1 297.9 312.2 292.5 313.9C296.0 318.4 305.6 321.5 308.5 318.9Z" fill="#447237" stroke="#5c8a4c" stroke-width="0.35"/>
<path d="M308.5 318.9L292.5 313.9" stroke="#e6efe2" stroke-width="0.35" opacity="0.7"/>
<path d="M305.5 322.8C304.3 319.8 294.6 316.8 289.3 317.6C293.1 321.3 302.8 324.6 305.5 322.8Z" fill="#679459" stroke="#5c8a4c" stroke-width="0.35"/>
<path d="M307.0 321.5C307.7 323.6 311.3 323.5 313.0 321.5C311.3 319.5 307.7 319.4 307.0 321.5Z" fill="#aac2a4" stroke="#5c8a4c" stroke-width="0.35"/>
<path d="M355.6 327.7Q365.8 325.2 376.8 327.9L378.6 338.4Q367.1 341.1 353.8 339.3Q352.2 333.1 355.6 327.7Z" fill="url(#soilg)" filter="url(#sn)"/>
<path d="M365.0 329.0C363.3 333.1 368.2 336.8 373.0 335.5C373.3 330.6 368.6 326.5 365.0 329.0Z" fill="#b9c6a7" stroke="#5c8a4c" stroke-width="0.35"/>
<path d="M365.0 329.0L373.0 335.5" stroke="#e6efe2" stroke-width="0.35" opacity="0.7"/>
<path d="M365.0 327.0L358.0 314.0L352.5 304.0" stroke="#8a7a4a" stroke-width="0.85" fill="none" stroke-linecap="round"/>
<path d="M352.5 301.4C357.4 302.9 371.1 293.8 375.5 286.5C367.1 287.6 353.1 296.4 352.5 301.4Z" fill="#8eb388" stroke="#5c8a4c" stroke-width="0.35"/>
<path d="M352.5 301.4L375.5 286.5" stroke="#e6efe2" stroke-width="0.35" opacity="0.7"/>
<path d="M351.8 304.4C355.5 309.4 370.4 307.1 376.7 301.0C369.0 296.8 354.0 298.6 351.8 304.4Z" fill="#93b690" stroke="#5c8a4c" stroke-width="0.35"/>
<path d="M351.8 304.4L376.7 301.0" stroke="#e6efe2" stroke-width="0.35" opacity="0.7"/>
<path d="M358.7 310.8C362.2 314.3 373.4 310.8 377.4 305.2C371.0 302.8 359.7 305.9 358.7 310.8Z" fill="#8eb388" stroke="#5c8a4c" stroke-width="0.35"/>
<path d="M358.7 310.8L377.4 305.2" stroke="#e6efe2" stroke-width="0.35" opacity="0.7"/>
<path d="M356.2 315.1C356.8 311.3 350.0 307.0 345.0 307.7C346.3 312.6 352.9 317.2 356.2 315.1Z" fill="#aac2a4" stroke="#5c8a4c" stroke-width="0.35"/>
<path d="M356.2 315.1L345.0 307.7" stroke="#e6efe2" stroke-width="0.35" opacity="0.7"/>
<path d="M363.0 315.8C365.8 320.5 375.8 318.8 379.8 313.3C374.4 309.2 364.3 310.5 363.0 315.8Z" fill="#93b690" stroke="#5c8a4c" stroke-width="0.35"/>
<path d="M363.0 315.8L379.8 313.3" stroke="#e6efe2" stroke-width="0.35" opacity="0.7"/>
<path d="M366.2 318.9C368.0 324.2 380.4 325.5 386.7 321.4C381.5 315.9 369.3 314.2 366.2 318.9Z" fill="#aac2a4" stroke="#5c8a4c" stroke-width="0.35"/>
<path d="M366.2 318.9L386.7 321.4" stroke="#e6efe2" stroke-width="0.35" opacity="0.7"/>
<path d="M362.4 320.1C359.3 317.1 355.8 319.7 356.3 324.2C360.2 326.4 364.0 324.1 362.4 320.1Z" fill="#8eb388" stroke="#5c8a4c" stroke-width="0.35"/>
<path d="M362.4 320.1L356.3 324.2" stroke="#e6efe2" stroke-width="0.35" opacity="0.7"/>
<path d="M364.9 322.6C365.3 326.2 372.1 328.1 376.1 325.9C373.9 321.9 367.2 319.8 364.9 322.6Z" fill="#679459" stroke="#5c8a4c" stroke-width="0.35"/>
<path d="M364.9 322.6L376.1 325.9" stroke="#e6efe2" stroke-width="0.35" opacity="0.7"/>
<path d="M413.4 328.8Q422.8 326.6 432.9 329.1L434.6 338.5Q424.0 341.0 411.7 339.4Q410.3 333.8 413.4 328.8Z" fill="url(#soilg)" filter="url(#sn)"/>
<path d="M422.2 327.0L420.0 315.0L417.8 304.0" stroke="#6f8f4a" stroke-width="0.85" fill="none" stroke-linecap="round"/>
<path d="M419.0 303.3C424.0 305.4 437.4 297.0 441.5 289.6C433.0 289.9 419.4 297.9 419.0 303.3Z" fill="#a4c09e" stroke="#5c8a4c" stroke-width="0.35"/>
<path d="M419.0 303.3L441.5 289.6" stroke="#e6efe2" stroke-width="0.35" opacity="0.7"/>
<path d="M417.2 305.2C417.1 300.2 405.4 293.2 397.9 293.3C401.2 300.0 412.7 307.4 417.2 305.2Z" fill="#8eb388" stroke="#5c8a4c" stroke-width="0.35"/>
<path d="M417.2 305.2L397.9 293.3" stroke="#e6efe2" stroke-width="0.35" opacity="0.7"/>
<path d="M414.7 308.9C413.8 303.6 399.9 297.5 391.7 298.3C396.4 305.1 410.1 311.6 414.7 308.9Z" fill="#93b690" stroke="#5c8a4c" stroke-width="0.35"/>
<path d="M414.7 308.9L391.7 298.3" stroke="#e6efe2" stroke-width="0.35" opacity="0.7"/>
<path d="M416.6 315.8C414.7 310.4 398.9 306.5 390.4 308.9C396.6 315.2 412.3 319.5 416.6 315.8Z" fill="#aac2a4" stroke="#5c8a4c" stroke-width="0.35"/>
<path d="M416.6 315.8L390.4 308.9" stroke="#e6efe2" stroke-width="0.35" opacity="0.7"/>
<path d="M417.2 308.3C418.1 310.9 423.3 311.1 425.9 308.9C423.6 306.3 418.4 305.8 417.2 308.3Z" fill="#679459" stroke="#5c8a4c" stroke-width="0.35"/>
<path d="M422.2 327.0C424.1 323.9 420.2 319.6 416.0 319.5C415.3 323.6 418.9 328.3 422.2 327.0Z" fill="#aac2a4" stroke="#5c8a4c" stroke-width="0.35"/>
<path d="M422.2 327.0L416.0 319.5" stroke="#e6efe2" stroke-width="0.35" opacity="0.7"/>
<path d="M423.4 325.1C422.7 330.3 432.5 336.9 439.6 336.3C437.6 329.5 428.0 322.6 423.4 325.1Z" fill="#aac2a4" stroke="#5c8a4c" stroke-width="0.35"/>
<path d="M423.4 325.1L439.6 336.3" stroke="#e6efe2" stroke-width="0.35" opacity="0.7"/>
<path d="M421.0 320.0C422.9 320.2 425.2 316.6 425.0 314.0C422.5 314.8 420.1 318.3 421.0 320.0Z" fill="#679459" stroke="#5c8a4c" stroke-width="0.35"/>
<path d="M311.3 390.1Q321.6 387.0 332.8 390.5L334.6 403.4Q322.9 406.9 309.5 404.6Q307.9 396.9 311.3 390.1Z" fill="url(#soilg)" filter="url(#sn)"/>
<path d="M319.6 396.6L318.0 382.0L316.9 369.3" stroke="#6f8f4a" stroke-width="0.85" fill="none" stroke-linecap="round"/>
<path d="M316.2 367.3C316.9 364.3 311.0 355.3 306.6 352.2C307.5 357.5 313.2 366.7 316.2 367.3Z" fill="#abc25a" stroke="#5c8a4c" stroke-width="0.35"/>
<path d="M317.6 368.0C320.6 367.5 330.0 358.8 333.3 353.6C327.8 356.4 318.3 365.0 317.6 368.0Z" fill="#92b44e" stroke="#5c8a4c" stroke-width="0.35"/>
<path d="M316.8 371.2C312.1 366.6 292.6 369.6 284.1 375.8C293.9 379.4 313.6 376.9 316.8 371.2Z" fill="#9dbd97" stroke="#5c8a4c" stroke-width="0.35"/>
<path d="M316.8 371.2L284.1 375.8" stroke="#e6efe2" stroke-width="0.35" opacity="0.7"/>
<path d="M315.5 376.2C311.1 371.2 296.4 375.4 290.9 382.6C299.2 386.2 314.0 382.7 315.5 376.2Z" fill="#8eb388" stroke="#5c8a4c" stroke-width="0.35"/>
<path d="M315.5 376.2L290.9 382.6" stroke="#e6efe2" stroke-width="0.35" opacity="0.7"/>
<path d="M314.8 385.7C314.0 381.0 303.8 378.0 297.8 380.3C301.3 385.6 311.5 389.1 314.8 385.7Z" fill="#679459" stroke="#5c8a4c" stroke-width="0.35"/>
<path d="M314.8 385.7L297.8 380.3" stroke="#e6efe2" stroke-width="0.35" opacity="0.7"/>
<path d="M313.2 371.2C315.4 368.2 312.1 364.3 308.0 364.5C306.8 368.4 309.8 372.6 313.2 371.2Z" fill="#8eb388" stroke="#5c8a4c" stroke-width="0.35"/>
<path d="M313.2 371.2L308.0 364.5" stroke="#e6efe2" stroke-width="0.35" opacity="0.7"/>
<path d="M319.6 393.2C324.0 393.5 325.8 387.7 323.0 383.7C318.3 385.0 316.0 390.6 319.6 393.2Z" fill="#aac2a4" stroke="#5c8a4c" stroke-width="0.35"/>
<path d="M319.6 393.2L323.0 383.7" stroke="#e6efe2" stroke-width="0.35" opacity="0.7"/>
<path d="M317.6 393.2C314.1 390.5 308.8 394.6 308.7 399.6C313.5 401.1 319.0 397.4 317.6 393.2Z" fill="#aac2a4" stroke="#5c8a4c" stroke-width="0.35"/>
<path d="M317.6 393.2L308.7 399.6" stroke="#e6efe2" stroke-width="0.35" opacity="0.7"/>
<path d="M319.6 394.6C317.9 396.1 319.3 399.0 321.8 399.6C323.1 397.4 321.9 394.3 319.6 394.6Z" fill="#8eb388" stroke="#5c8a4c" stroke-width="0.35"/>
<path d="M356.8 391.9Q367.0 389.4 377.8 392.1L379.6 402.6Q368.2 405.3 355.1 403.5Q353.5 397.4 356.8 391.9Z" fill="url(#soilg)" filter="url(#sn)"/>
<path d="M365.3 391.2L364.4 376.0L363.2 361.1" stroke="#6f8f4a" stroke-width="0.85" fill="none" stroke-linecap="round"/>
<path d="M361.9 360.4C361.4 357.5 353.2 352.3 348.2 351.6C350.9 355.8 359.1 361.2 361.9 360.4Z" fill="#abc25a" stroke="#5c8a4c" stroke-width="0.35"/>
<path d="M362.5 360.4C364.7 359.2 366.2 351.5 365.3 347.5C362.8 350.7 361.0 358.5 362.5 360.4Z" fill="#a0bd55" stroke="#5c8a4c" stroke-width="0.35"/>
<path d="M364.0 365.2C362.4 361.8 355.8 362.6 353.0 366.2C356.4 369.3 363.0 368.9 364.0 365.2Z" fill="#8eb388" stroke="#5c8a4c" stroke-width="0.35"/>
<path d="M364.0 365.2L353.0 366.2" stroke="#e6efe2" stroke-width="0.35" opacity="0.7"/>
<path d="M363.9 376.2C363.5 372.4 354.9 368.8 349.6 370.0C352.3 374.7 360.8 378.6 363.9 376.2Z" fill="#679459" stroke="#5c8a4c" stroke-width="0.35"/>
<path d="M363.9 376.2L349.6 370.0" stroke="#e6efe2" stroke-width="0.35" opacity="0.7"/>
<path d="M365.3 376.2C369.6 378.2 378.0 371.5 379.6 365.2C373.1 365.1 364.4 371.5 365.3 376.2Z" fill="#aac2a4" stroke="#5c8a4c" stroke-width="0.35"/>
<path d="M365.3 376.2L379.6 365.2" stroke="#e6efe2" stroke-width="0.35" opacity="0.7"/>
<path d="M366.0 380.3C368.7 382.4 376.8 378.9 379.6 374.8C374.7 373.7 366.5 376.9 366.0 380.3Z" fill="#9dbd97" stroke="#5c8a4c" stroke-width="0.35"/>
<path d="M365.3 389.1C367.0 385.5 362.7 382.0 358.4 383.0C357.9 387.4 362.0 391.2 365.3 389.1Z" fill="#aac2a4" stroke="#5c8a4c" stroke-width="0.35"/>
<path d="M365.3 389.1L358.4 383.0" stroke="#e6efe2" stroke-width="0.35" opacity="0.7"/>
<path d="M367.3 389.1C370.1 394.8 385.3 395.0 392.6 390.0C385.7 384.5 370.5 383.6 367.3 389.1Z" fill="#b2c6ab" stroke="#5c8a4c" stroke-width="0.35"/>
<path d="M367.3 389.1L392.6 390.0" stroke="#e6efe2" stroke-width="0.35" opacity="0.7"/>
<path d="M363.2 392.5C361.1 390.5 354.6 392.9 352.3 396.2C356.1 397.4 362.7 395.3 363.2 392.5Z" fill="#aac2a4" stroke="#5c8a4c" stroke-width="0.35"/>
<path d="M363.5 368.0C361.3 367.8 360.6 370.3 362.3 372.0C364.6 371.5 365.5 369.1 363.5 368.0Z" fill="#92bb78" stroke="#5c8a4c" stroke-width="0.35"/>
<path d="M403.6 393.3Q412.9 390.8 423.1 393.5L424.7 403.9Q414.1 406.6 401.9 404.8Q400.5 398.7 403.6 393.3Z" fill="url(#soilg)" filter="url(#sn)"/>
<path d="M419.2 393.9L422.5 375.0L425.4 358.4" stroke="#7fa04a" stroke-width="0.85" fill="none" stroke-linecap="round"/>
<path d="M425.0 357.0C427.0 355.1 425.1 349.8 422.0 348.1C420.6 351.4 422.2 356.7 425.0 357.0Z" fill="#b9c96a" stroke="#5c8a4c" stroke-width="0.35"/>
<path d="M426.1 358.4C428.9 359.1 433.3 354.1 433.6 350.2C429.7 350.9 425.1 355.7 426.1 358.4Z" fill="#abc25a" stroke="#5c8a4c" stroke-width="0.35"/>
<path d="M422.7 372.1C423.5 365.1 410.6 357.5 401.5 359.1C404.2 367.9 416.8 376.0 422.7 372.1Z" fill="#afc6ab" stroke="#5c8a4c" stroke-width="0.35"/>
<path d="M422.7 372.1L401.5 359.1" stroke="#e6efe2" stroke-width="0.35" opacity="0.7"/>
<path d="M420.6 387.8C421.1 381.2 408.3 373.7 399.4 374.8C402.4 383.2 415.0 391.3 420.6 387.8Z" fill="#a4c09e" stroke="#5c8a4c" stroke-width="0.35"/>
<path d="M420.6 387.8L399.4 374.8" stroke="#e6efe2" stroke-width="0.35" opacity="0.7"/>
<path d="M424.0 387.8C424.0 395.1 436.9 399.9 445.2 396.4C441.7 388.0 429.1 382.6 424.0 387.8Z" fill="#aac2a4" stroke="#5c8a4c" stroke-width="0.35"/>
<path d="M424.0 387.8L445.2 396.4" stroke="#e6efe2" stroke-width="0.35" opacity="0.7"/>
<path d="M424.0 381.6C425.1 383.4 431.6 383.9 434.8 382.6C431.9 380.7 425.5 380.0 424.0 381.6Z" fill="#679459" stroke="#5c8a4c" stroke-width="0.35"/>
<path d="M415.8 393.9C417.4 390.6 412.8 385.8 408.3 385.7C408.0 390.2 412.4 395.2 415.8 393.9Z" fill="#8eb388" stroke="#5c8a4c" stroke-width="0.35"/>
<path d="M415.8 393.9L408.3 385.7" stroke="#e6efe2" stroke-width="0.35" opacity="0.7"/>
<path d="M416.5 396.6C416.6 400.3 424.0 403.6 428.8 402.3C426.7 397.8 419.4 394.2 416.5 396.6Z" fill="#b2c18b" stroke="#5c8a4c" stroke-width="0.35"/>
<path d="M416.5 396.6L428.8 402.3" stroke="#e6efe2" stroke-width="0.35" opacity="0.7"/>
<path d="M424.0 366.0C425.3 364.9 424.4 363.1 422.5 363.0C421.5 364.6 422.3 366.4 424.0 366.0Z" fill="#a0bd55" stroke="#5c8a4c" stroke-width="0.35"/>
<path d="M303.4 458.3Q312.9 455.4 323.2 458.6L324.9 470.7Q314.1 473.9 301.7 471.8Q300.3 464.6 303.4 458.3Z" fill="url(#soilg)" filter="url(#sn)"/>
<path d="M308.9 455.2L303.2 434.9L299.5 424.1" stroke="#8a9a4a" stroke-width="0.85" fill="none" stroke-linecap="round"/>
<path d="M301.7 434.9C300.6 430.9 288.8 426.6 282.2 427.5C286.5 432.6 298.2 437.2 301.7 434.9Z" fill="#9dc292" stroke="#5c8a4c" stroke-width="0.35"/>
<path d="M301.7 434.9L282.2 427.5" stroke="#e6efe2" stroke-width="0.35" opacity="0.7"/>
<path d="M319.1 437.1C323.9 439.3 332.9 431.7 334.3 424.8C327.2 424.8 317.9 431.9 319.1 437.1Z" fill="#7cb06c" stroke="#5c8a4c" stroke-width="0.35"/>
<path d="M319.1 437.1L334.3 424.8" stroke="#e6efe2" stroke-width="0.35" opacity="0.7"/>
<path d="M308.9 448.4C316.6 449.7 319.9 441.3 314.9 434.5C306.6 435.5 302.6 443.7 308.9 448.4Z" fill="#93be86" stroke="#5c8a4c" stroke-width="0.35"/>
<path d="M308.9 448.4L314.9 434.5" stroke="#e6efe2" stroke-width="0.35" opacity="0.7"/>
<path d="M309.7 442.2C312.7 441.7 316.1 433.8 315.5 429.2C311.7 431.9 308.1 439.6 309.7 442.2Z" fill="#abc25a" stroke="#5c8a4c" stroke-width="0.35"/>
<path d="M307.5 450.9C305.2 446.2 293.9 446.6 288.7 451.2C294.0 455.6 305.3 455.7 307.5 450.9Z" fill="#aac2a4" stroke="#5c8a4c" stroke-width="0.35"/>
<path d="M307.5 450.9L288.7 451.2" stroke="#e6efe2" stroke-width="0.35" opacity="0.7"/>
<path d="M306.8 453.8C300.7 450.1 291.8 457.8 291.6 466.3C299.9 467.8 309.3 460.5 306.8 453.8Z" fill="#8eba82" stroke="#5c8a4c" stroke-width="0.35"/>
<path d="M306.8 453.8L291.6 466.3" stroke="#e6efe2" stroke-width="0.35" opacity="0.7"/>
<path d="M310.4 454.5C307.3 461.0 316.3 470.1 325.1 470.0C325.6 461.2 317.1 451.7 310.4 454.5Z" fill="#aac6a0" stroke="#5c8a4c" stroke-width="0.35"/>
<path d="M310.4 454.5L325.1 470.0" stroke="#e6efe2" stroke-width="0.35" opacity="0.7"/>
<path d="M302.4 448.0C304.3 446.1 302.9 438.2 300.3 434.9C298.8 438.9 300.0 446.8 302.4 448.0Z" fill="#92ba45" stroke="#5c8a4c" stroke-width="0.35"/>
<path d="M345.8 460.9Q354.8 458.4 364.4 461.2L366.0 471.6Q355.9 474.4 344.3 472.6Q342.9 466.4 345.8 460.9Z" fill="url(#soilg)" filter="url(#sn)"/>
<path d="M360.3 458.1L363.9 442.2L366.0 432.0" stroke="#6f7f3a" stroke-width="0.85" fill="none" stroke-linecap="round"/>
<path d="M366.8 435.5C371.9 430.2 366.7 422.0 358.6 421.5C355.1 428.8 359.7 437.4 366.8 435.5Z" fill="#93be86" stroke="#5c8a4c" stroke-width="0.35"/>
<path d="M366.8 435.5L358.6 421.5" stroke="#e6efe2" stroke-width="0.35" opacity="0.7"/>
<path d="M363.9 443.6C359.4 440.2 345.4 445.8 340.4 452.5C348.6 454.2 362.8 449.1 363.9 443.6Z" fill="#aac6a0" stroke="#5c8a4c" stroke-width="0.35"/>
<path d="M363.9 443.6L340.4 452.5" stroke="#e6efe2" stroke-width="0.35" opacity="0.7"/>
<path d="M365.3 444.3C366.1 448.1 377.5 454.2 384.1 454.7C380.2 449.3 369.0 443.0 365.3 444.3Z" fill="#8eb388" stroke="#5c8a4c" stroke-width="0.35"/>
<path d="M361.7 440.7C363.1 438.1 359.0 432.1 355.2 430.6C355.0 434.7 358.8 440.9 361.7 440.7Z" fill="#abc25a" stroke="#5c8a4c" stroke-width="0.35"/>
<path d="M370.4 432.0C372.9 432.2 379.8 426.5 382.0 422.6C377.7 424.0 370.7 429.6 370.4 432.0Z" fill="#92ba45" stroke="#5c8a4c" stroke-width="0.35"/>
<path d="M354.5 463.9C356.7 460.1 352.2 455.4 347.2 455.9C346.3 460.8 350.5 465.8 354.5 463.9Z" fill="#aac2a4" stroke="#5c8a4c" stroke-width="0.35"/>
<path d="M354.5 463.9L347.2 455.9" stroke="#e6efe2" stroke-width="0.35" opacity="0.7"/>
<path d="M359.5 463.3C361.7 466.0 365.6 464.0 366.0 460.2C362.8 458.2 358.8 459.9 359.5 463.3Z" fill="#8eb388" stroke="#5c8a4c" stroke-width="0.35"/>
<path d="M359.5 463.3L366.0 460.2" stroke="#e6efe2" stroke-width="0.35" opacity="0.7"/>
<path d="M358.5 450.6C359.7 448.7 357.5 446.4 355.0 446.6C354.5 449.0 356.5 451.5 358.5 450.6Z" fill="#abc25a" stroke="#5c8a4c" stroke-width="0.35"/>
<path d="M409.8 459.6Q420.0 456.9 430.8 459.9L432.6 471.5Q421.2 474.5 408.1 472.5Q406.5 465.7 409.8 459.6Z" fill="url(#soilg)" filter="url(#sn)"/>
<path d="M418.1 458.1L415.9 426.3L413.8 416.1" stroke="#7f8f4a" stroke-width="0.85" fill="none" stroke-linecap="round"/>
<path d="M415.2 432.8C413.4 428.7 399.0 424.3 391.4 425.3C397.1 430.5 411.3 435.1 415.2 432.8Z" fill="#aac6a0" stroke="#5c8a4c" stroke-width="0.35"/>
<path d="M415.2 432.8L391.4 425.3" stroke="#e6efe2" stroke-width="0.35" opacity="0.7"/>
<path d="M418.8 426.3C422.9 428.6 440.3 424.8 447.8 420.3C439.1 419.2 421.7 422.6 418.8 426.3Z" fill="#9dbd97" stroke="#5c8a4c" stroke-width="0.35"/>
<path d="M418.8 426.3L447.8 420.3" stroke="#e6efe2" stroke-width="0.35" opacity="0.7"/>
<path d="M415.9 426.3C418.0 424.4 416.2 417.9 413.1 415.4C411.6 419.1 413.1 425.6 415.9 426.3Z" fill="#a0c245" stroke="#5c8a4c" stroke-width="0.35"/>
<path d="M416.7 452.3C423.5 456.1 429.4 449.2 427.0 441.2C418.8 439.4 412.4 445.8 416.7 452.3Z" fill="#9dc292" stroke="#5c8a4c" stroke-width="0.35"/>
<path d="M416.7 452.3L427.0 441.2" stroke="#e6efe2" stroke-width="0.35" opacity="0.7"/>
<path d="M418.8 441.4C420.4 444.3 427.3 443.7 430.4 440.7C427.0 438.1 420.0 438.4 418.8 441.4Z" fill="#8eb388" stroke="#5c8a4c" stroke-width="0.35"/>
<path d="M415.2 452.3C411.1 446.1 395.5 448.8 389.2 456.3C397.5 461.5 413.1 459.5 415.2 452.3Z" fill="#aac6a0" stroke="#5c8a4c" stroke-width="0.35"/>
<path d="M415.2 452.3L389.2 456.3" stroke="#e6efe2" stroke-width="0.35" opacity="0.7"/>
<path d="M415.2 450.9C418.4 447.9 415.6 443.2 410.9 442.9C408.6 447.0 411.0 451.9 415.2 450.9Z" fill="#9dc292" stroke="#5c8a4c" stroke-width="0.35"/>
<path d="M415.2 450.9L410.9 442.9" stroke="#e6efe2" stroke-width="0.35" opacity="0.7"/>
<path d="M408.7 440.0C410.1 438.0 407.4 433.7 404.4 432.8C403.8 435.9 406.3 440.3 408.7 440.0Z" fill="#b9c953" stroke="#5c8a4c" stroke-width="0.35"/>
<path d="M421.0 461.7C420.1 466.0 425.4 468.5 429.7 466.2C429.1 461.4 424.0 458.5 421.0 461.7Z" fill="#aac2a4" stroke="#5c8a4c" stroke-width="0.35"/>
<path d="M421.0 461.7L429.7 466.2" stroke="#e6efe2" stroke-width="0.35" opacity="0.7"/>
<path d="M411.0 459.6C411.3 462.2 414.8 462.6 416.8 460.4C415.5 457.8 412.0 457.2 411.0 459.6Z" fill="#8eb388" stroke="#5c8a4c" stroke-width="0.35"/>
</g>
</g>
</svg>
</body></html>
